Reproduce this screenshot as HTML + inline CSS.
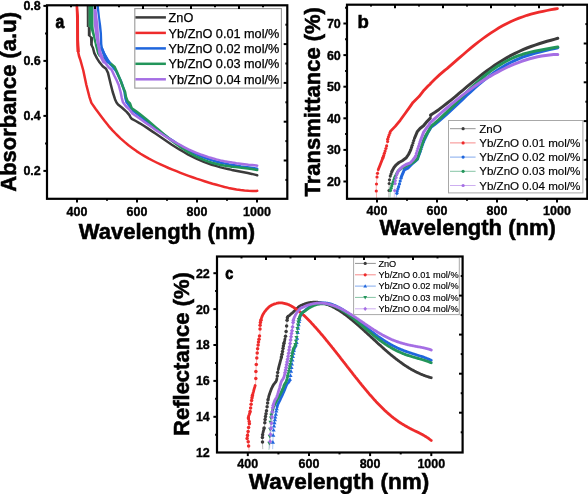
<!DOCTYPE html>
<html><head><meta charset="utf-8"><style>
html,body{margin:0;padding:0;background:#fff;}
body{width:588px;height:494px;overflow:hidden;}
svg{display:block;will-change:transform;}
</style></head><body>
<svg width="588" height="494" viewBox="0 0 588 494">
<rect width="588" height="494" fill="#fff"/>
<text x="77.0" y="215.6" text-anchor="middle" font-size="12.5" font-weight="bold" fill="#000" font-family="Liberation Sans, sans-serif" stroke="#000" stroke-width="0.35">400</text>
<text x="137.0" y="215.6" text-anchor="middle" font-size="12.5" font-weight="bold" fill="#000" font-family="Liberation Sans, sans-serif" stroke="#000" stroke-width="0.35">600</text>
<text x="197.0" y="215.6" text-anchor="middle" font-size="12.5" font-weight="bold" fill="#000" font-family="Liberation Sans, sans-serif" stroke="#000" stroke-width="0.35">800</text>
<text x="257.0" y="215.6" text-anchor="middle" font-size="12.5" font-weight="bold" fill="#000" font-family="Liberation Sans, sans-serif" stroke="#000" stroke-width="0.35">1000</text>
<text x="377.0" y="214.8" text-anchor="middle" font-size="12.5" font-weight="bold" fill="#000" font-family="Liberation Sans, sans-serif" stroke="#000" stroke-width="0.35">400</text>
<text x="437.0" y="214.8" text-anchor="middle" font-size="12.5" font-weight="bold" fill="#000" font-family="Liberation Sans, sans-serif" stroke="#000" stroke-width="0.35">600</text>
<text x="497.0" y="214.8" text-anchor="middle" font-size="12.5" font-weight="bold" fill="#000" font-family="Liberation Sans, sans-serif" stroke="#000" stroke-width="0.35">800</text>
<text x="557.0" y="214.8" text-anchor="middle" font-size="12.5" font-weight="bold" fill="#000" font-family="Liberation Sans, sans-serif" stroke="#000" stroke-width="0.35">1000</text>
<text x="40.8" y="10.3" text-anchor="end" font-size="12.5" font-weight="bold" fill="#000" font-family="Liberation Sans, sans-serif" stroke="#000" stroke-width="0.35">0.8</text>
<text x="40.8" y="65.3" text-anchor="end" font-size="12.5" font-weight="bold" fill="#000" font-family="Liberation Sans, sans-serif" stroke="#000" stroke-width="0.35">0.6</text>
<text x="40.8" y="120.3" text-anchor="end" font-size="12.5" font-weight="bold" fill="#000" font-family="Liberation Sans, sans-serif" stroke="#000" stroke-width="0.35">0.4</text>
<text x="40.8" y="175.2" text-anchor="end" font-size="12.5" font-weight="bold" fill="#000" font-family="Liberation Sans, sans-serif" stroke="#000" stroke-width="0.35">0.2</text>
<text x="340.8" y="27.9" text-anchor="end" font-size="12.5" font-weight="bold" fill="#000" font-family="Liberation Sans, sans-serif" stroke="#000" stroke-width="0.35">70</text>
<text x="340.8" y="59.5" text-anchor="end" font-size="12.5" font-weight="bold" fill="#000" font-family="Liberation Sans, sans-serif" stroke="#000" stroke-width="0.35">60</text>
<text x="340.8" y="91.1" text-anchor="end" font-size="12.5" font-weight="bold" fill="#000" font-family="Liberation Sans, sans-serif" stroke="#000" stroke-width="0.35">50</text>
<text x="340.8" y="122.7" text-anchor="end" font-size="12.5" font-weight="bold" fill="#000" font-family="Liberation Sans, sans-serif" stroke="#000" stroke-width="0.35">40</text>
<text x="340.8" y="154.3" text-anchor="end" font-size="12.5" font-weight="bold" fill="#000" font-family="Liberation Sans, sans-serif" stroke="#000" stroke-width="0.35">30</text>
<text x="340.8" y="185.9" text-anchor="end" font-size="12.5" font-weight="bold" fill="#000" font-family="Liberation Sans, sans-serif" stroke="#000" stroke-width="0.35">20</text>
<text x="167.0" y="238.9" text-anchor="middle" font-size="22" font-weight="bold" fill="#000" font-family="Liberation Sans, sans-serif" stroke="#000" stroke-width="0.55">Wavelength (nm)</text>
<text x="467.6" y="235.3" text-anchor="middle" font-size="22" font-weight="bold" fill="#000" font-family="Liberation Sans, sans-serif" stroke="#000" stroke-width="0.55">Wavelength (nm)</text>
<text transform="translate(16.2,101.9) rotate(-90)" text-anchor="middle" font-size="22" font-weight="bold" stroke="#000" stroke-width="0.55" font-family="Liberation Sans, sans-serif">Absorbance (a.u)</text>
<text transform="translate(319.8,101.8) rotate(-90)" text-anchor="middle" font-size="22" font-weight="bold" stroke="#000" stroke-width="0.55" font-family="Liberation Sans, sans-serif">Transmittance (%)</text>
<text transform="translate(55.4,27.5) scale(0.89,1)" font-size="17.6" font-weight="bold" stroke="#000" stroke-width="0.8" font-family="Liberation Sans, sans-serif">a</text>
<text x="357.5" y="27.5" text-anchor="start" font-size="18.6" font-weight="bold" fill="#000" font-family="Liberation Sans, sans-serif" stroke="#000" stroke-width="0.55">b</text>
<polyline points="91.5,45.0 93.0,48.0 94.3,53.2 97.0,58.4 99.5,62.3 102.7,66.2 106.0,68.8 108.0,72.9 109.7,80.0 110.9,85.0 112.7,92.0 115.0,99.2 116.5,102.5 118.0,104.5 122.1,107.8 126.9,112.1 129.4,115.1 130.6,117.5 131.8,118.9 135.8,121.0 139.8,123.3 143.8,125.8 147.8,128.4 151.8,131.1 155.8,133.8 159.8,136.6 163.8,139.3 167.8,142.0 171.8,144.7 175.8,147.2 179.8,149.7 183.8,152.0 187.8,154.3 191.8,156.4 195.8,158.3 199.8,160.1 203.8,161.8 207.8,163.3 211.8,164.7 215.8,165.9 219.8,167.1 223.8,168.1 227.8,169.0 231.8,169.9 235.8,170.7 239.8,171.5 243.8,172.3 247.8,173.1 251.8,173.9 255.8,174.9 257.2,175.3" fill="none" stroke="#3b3b3b" stroke-width="2.5" stroke-linejoin="round" stroke-linecap="round" opacity="1"/>
<polyline points="76.9,5.5 77.2,16.0 77.5,30.0 77.7,45.0 78.2,52.0 79.0,56.0 80.5,60.4 81.5,64.0 83.3,70.5 86.3,84.7 89.4,96.8 91.4,102.9 95.5,108.8 100.5,115.5 104.5,120.8 108.5,125.8 112.5,130.3 116.5,134.5 120.5,138.4 124.5,141.9 128.5,145.2 132.5,148.2 136.5,151.1 140.5,153.7 144.5,156.1 148.5,158.4 152.5,160.5 156.5,162.5 160.5,164.4 164.5,166.2 168.5,168.0 172.5,169.6 176.5,171.2 180.5,172.8 184.5,174.3 188.5,175.8 192.5,177.2 196.5,178.6 200.5,179.9 204.5,181.2 208.5,182.5 212.5,183.7 216.5,184.8 220.5,185.9 224.5,187.0 228.5,187.9 232.5,188.7 236.5,189.5 240.5,190.1 244.5,190.5 248.5,190.8 252.5,191.0 256.5,190.9 257.2,190.8" fill="none" stroke="#ee2b2b" stroke-width="2.5" stroke-linejoin="round" stroke-linecap="round" opacity="1"/>
<polyline points="101.8,48.0 103.8,53.2 106.3,58.4 109.6,63.6 112.4,66.5 116.0,71.0 120.7,80.5 123.0,87.0 124.5,92.0 125.4,98.1 126.6,102.3 129.4,106.0 133.0,110.7 137.0,113.7 141.0,116.8 145.0,119.9 149.0,123.1 153.0,126.2 157.0,129.3 161.0,132.4 165.0,135.3 169.0,138.2 173.0,140.9 177.0,143.6 181.0,146.0 185.0,148.4 189.0,150.6 193.0,152.6 197.0,154.5 201.0,156.3 205.0,157.9 209.0,159.3 213.0,160.6 217.0,161.7 221.0,162.7 225.0,163.6 229.0,164.4 233.0,165.1 237.0,165.8 241.0,166.4 245.0,166.9 249.0,167.5 253.0,168.1 257.0,168.7 257.2,168.8" fill="none" stroke="#1f66dd" stroke-width="2.5" stroke-linejoin="round" stroke-linecap="round" opacity="1"/>
<polyline points="96.0,45.0 97.0,48.5 98.2,53.2 100.0,56.0 104.0,58.5 108.3,61.5 111.5,64.2 114.7,67.0 117.0,72.0 120.7,81.0 123.0,87.0 125.1,92.0 126.0,96.9 127.6,101.1 130.0,103.5 131.8,108.4 135.8,111.1 139.8,114.1 143.8,117.2 147.8,120.5 151.8,123.9 155.8,127.4 159.8,130.8 163.8,134.2 167.8,137.5 171.8,140.7 175.8,143.7 179.8,146.6 183.8,149.3 187.8,151.9 191.8,154.2 195.8,156.3 199.8,158.2 203.8,159.9 207.8,161.4 211.8,162.7 215.8,163.8 219.8,164.7 223.8,165.5 227.8,166.1 231.8,166.7 235.8,167.1 239.8,167.6 243.8,168.0 247.8,168.4 251.8,169.0 255.8,169.7 257.2,170.0" fill="none" stroke="#22955a" stroke-width="2.5" stroke-linejoin="round" stroke-linecap="round" opacity="1"/>
<polyline points="99.0,48.0 100.2,53.2 102.5,58.4 105.7,63.6 108.6,67.3 111.6,69.8 114.5,76.0 116.5,80.0 118.7,85.0 120.6,92.0 121.8,98.1 123.0,102.3 125.7,106.0 130.0,110.2 132.4,113.5 136.4,116.3 140.4,119.1 144.4,122.0 148.4,124.8 152.4,127.6 156.4,130.4 160.4,133.0 164.4,135.7 168.4,138.2 172.4,140.6 176.4,143.0 180.4,145.2 184.4,147.3 188.4,149.3 192.4,151.1 196.4,152.8 200.4,154.4 204.4,155.8 208.4,157.1 212.4,158.3 216.4,159.4 220.4,160.4 224.4,161.2 228.4,161.9 232.4,162.6 236.4,163.2 240.4,163.7 244.4,164.2 248.4,164.7 252.4,165.1 256.4,165.6 257.2,165.7" fill="none" stroke="#a56ee4" stroke-width="2.5" stroke-linejoin="round" stroke-linecap="round" opacity="1"/>
<polygon points="75.8,5.5 76.1,16.0 76.2,40.0 76.6,52.0 79.8,52.0 79.1,40.0 79.0,16.0 77.9,5.5" fill="#ee2b2b"/>
<polygon points="86.7,5.5 86.8,26.9 87.8,27.0 87.8,35.8 89.9,37.4 90.2,45.0 92.8,45.0 93.1,37.4 90.7,35.8 90.7,27.0 88.8,26.9 88.8,5.5" fill="#3b3b3b"/>
<polygon points="88.6,5.5 88.6,26.0 90.7,29.3 93.1,37.4 93.9,41.4 95.0,45.0 97.0,45.0 96.3,41.4 95.5,37.4 93.8,29.3 93.5,26.0 93.5,5.5" fill="#22955a"/>
<polygon points="93.5,7.0 93.9,25.2 95.5,37.4 96.7,43.9 97.6,48.0 98.2,53.2 100.2,58.4 102.8,63.6 107.6,63.6 104.2,58.4 101.8,53.2 100.5,48.0 100.0,43.9 99.2,37.4 98.4,25.2 96.3,7.0" fill="#a56ee4"/>
<polygon points="96.3,5.5 98.0,17.1 98.8,25.2 99.6,33.3 100.0,43.9 100.5,48.0 102.1,53.2 104.1,58.4 107.3,63.6 111.6,63.6 108.4,58.4 105.4,53.2 103.0,48.0 102.4,43.9 102.0,33.3 101.2,25.2 100.0,17.1 98.8,5.5" fill="#1f66dd"/>
<rect x="134.8" y="8.6" width="146.6" height="79.5" fill="#fff" stroke="#999" stroke-width="1.1"/>
<line x1="135.4" y1="17.4" x2="165.9" y2="17.4" stroke="#3b3b3b" stroke-width="2.5"/>
<text x="168.6" y="22.0" text-anchor="start" font-size="12.7" fill="#000" font-family="Liberation Sans, sans-serif" stroke="#000" stroke-width="0.25">ZnO</text>
<line x1="135.4" y1="32.9" x2="165.9" y2="32.9" stroke="#ee2b2b" stroke-width="2.5"/>
<text x="168.6" y="37.5" text-anchor="start" font-size="12.7" fill="#000" font-family="Liberation Sans, sans-serif" stroke="#000" stroke-width="0.25">Yb/ZnO 0.01 mol/%</text>
<line x1="135.4" y1="48.4" x2="165.9" y2="48.4" stroke="#1f66dd" stroke-width="2.5"/>
<text x="168.6" y="53.0" text-anchor="start" font-size="12.7" fill="#000" font-family="Liberation Sans, sans-serif" stroke="#000" stroke-width="0.25">Yb/ZnO 0.02 mol/%</text>
<line x1="135.4" y1="63.8" x2="165.9" y2="63.8" stroke="#22955a" stroke-width="2.5"/>
<text x="168.6" y="68.4" text-anchor="start" font-size="12.7" fill="#000" font-family="Liberation Sans, sans-serif" stroke="#000" stroke-width="0.25">Yb/ZnO 0.03 mol/%</text>
<line x1="135.4" y1="79.3" x2="165.9" y2="79.3" stroke="#a56ee4" stroke-width="2.5"/>
<text x="168.6" y="83.9" text-anchor="start" font-size="12.7" fill="#000" font-family="Liberation Sans, sans-serif" stroke="#000" stroke-width="0.25">Yb/ZnO 0.04 mol/%</text>
<polyline points="388.8,197.5 389.0,190.0 389.3,181.0 390.3,176.0 392.1,170.9 394.0,167.5 396.2,164.8 399.0,162.5 402.3,160.7 406.3,157.7 408.5,154.5 410.4,150.6 412.5,144.5 414.4,138.5 417.4,131.4 420.0,128.5 423.5,125.8 427.0,121.5 430.3,118.1 430.8,114.8 431.0,114.7 435.0,112.2 439.0,109.4 443.0,106.4 447.0,103.3 451.0,100.1 455.0,96.8 459.0,93.4 463.0,90.1 467.0,86.7 471.0,83.4 475.0,80.1 479.0,76.9 483.0,73.8 487.0,70.8 491.0,67.9 495.0,65.1 499.0,62.5 503.0,60.0 507.0,57.6 511.0,55.4 515.0,53.4 519.0,51.5 523.0,49.7 527.0,48.0 531.0,46.5 535.0,45.1 539.0,43.8 543.0,42.5 547.0,41.3 551.0,40.2 555.0,39.1 557.8,38.3" fill="none" stroke="#3b3b3b" stroke-width="0.8" opacity="0.45" stroke-linejoin="round"/>
<polyline points="392.1,170.9 394.0,167.5 396.2,164.8 399.0,162.5 402.3,160.7 406.3,157.7 408.5,154.5 410.4,150.6" fill="none" stroke="#3b3b3b" stroke-width="3.0" stroke-linejoin="round" stroke-linecap="round"/>
<polyline points="414.4,138.5 417.4,131.4 420.0,128.5 423.5,125.8 427.0,121.5 430.3,118.1" fill="none" stroke="#3b3b3b" stroke-width="3.0" stroke-linejoin="round" stroke-linecap="round"/>
<polyline points="430.8,114.8 431.0,114.7 435.0,112.2 439.0,109.4 443.0,106.4 447.0,103.3 451.0,100.1 455.0,96.8 459.0,93.4 463.0,90.1 467.0,86.7 471.0,83.4 475.0,80.1 479.0,76.9 483.0,73.8 487.0,70.8 491.0,67.9 495.0,65.1 499.0,62.5 503.0,60.0 507.0,57.6 511.0,55.4 515.0,53.4 519.0,51.5 523.0,49.7 527.0,48.0 531.0,46.5 535.0,45.1 539.0,43.8 543.0,42.5 547.0,41.3 551.0,40.2 555.0,39.1 557.8,38.3" fill="none" stroke="#3b3b3b" stroke-width="3.0" stroke-linejoin="round" stroke-linecap="round"/>
<circle cx="389.0" cy="190.5" r="1.6" fill="#3b3b3b"/>
<circle cx="389.2" cy="183.5" r="1.6" fill="#3b3b3b"/>
<circle cx="389.5" cy="179.8" r="1.6" fill="#3b3b3b"/>
<circle cx="390.3" cy="176.1" r="1.6" fill="#3b3b3b"/>
<circle cx="391.0" cy="174.0" r="1.6" fill="#3b3b3b"/>
<circle cx="391.7" cy="171.9" r="1.6" fill="#3b3b3b"/>
<circle cx="410.8" cy="149.5" r="1.6" fill="#3b3b3b"/>
<circle cx="411.5" cy="147.4" r="1.6" fill="#3b3b3b"/>
<circle cx="412.2" cy="145.3" r="1.6" fill="#3b3b3b"/>
<circle cx="413.0" cy="142.9" r="1.6" fill="#3b3b3b"/>
<circle cx="413.7" cy="140.6" r="1.6" fill="#3b3b3b"/>
<circle cx="430.7" cy="115.5" r="1.6" fill="#3b3b3b"/>
<polyline points="376.6,198.0 376.4,192.0 376.2,189.1 376.5,183.0 377.2,174.9 378.2,169.8 380.2,164.8 383.3,156.7 385.3,150.6 387.3,143.5 388.3,137.4 390.4,131.4 395.2,126.4 400.2,120.3 405.3,113.2 410.4,106.1 413.0,102.4 416.0,99.4 419.0,96.6 424.0,90.2 428.0,86.1 430.3,83.9 431.0,82.9 435.0,79.0 440.0,74.4 445.0,70.1 447.0,68.6 451.0,65.1 455.0,61.6 459.0,58.1 463.0,54.7 467.0,51.3 471.0,47.9 475.0,44.7 479.0,41.5 483.0,38.5 487.0,35.6 491.0,32.9 495.0,30.3 499.0,27.8 503.0,25.6 507.0,23.5 511.0,21.5 515.0,19.8 519.0,18.1 523.0,16.7 527.0,15.3 531.0,14.2 535.0,13.1 539.0,12.1 543.0,11.3 547.0,10.5 551.0,9.7 555.0,9.0 557.4,8.6" fill="none" stroke="#ee2b2b" stroke-width="0.8" opacity="0.45" stroke-linejoin="round"/>
<polyline points="378.2,169.8 380.2,164.8 383.3,156.7" fill="none" stroke="#ee2b2b" stroke-width="2.8" stroke-linejoin="round" stroke-linecap="round"/>
<polyline points="390.4,131.4 395.2,126.4 400.2,120.3 405.3,113.2 410.4,106.1 413.0,102.4 416.0,99.4 419.0,96.6 424.0,90.2 428.0,86.1 430.3,83.9 431.0,82.9 435.0,79.0 440.0,74.4 445.0,70.1 447.0,68.6 451.0,65.1 455.0,61.6 459.0,58.1 463.0,54.7 467.0,51.3 471.0,47.9 475.0,44.7 479.0,41.5 483.0,38.5 487.0,35.6 491.0,32.9 495.0,30.3 499.0,27.8 503.0,25.6 507.0,23.5 511.0,21.5 515.0,19.8 519.0,18.1 523.0,16.7 527.0,15.3 531.0,14.2 535.0,13.1 539.0,12.1 543.0,11.3 547.0,10.5 551.0,9.7 555.0,9.0 557.4,8.6" fill="none" stroke="#ee2b2b" stroke-width="2.8" stroke-linejoin="round" stroke-linecap="round"/>
<circle cx="376.3" cy="191.0" r="1.6" fill="#ee2b2b"/>
<circle cx="376.5" cy="184.0" r="1.6" fill="#ee2b2b"/>
<circle cx="377.0" cy="177.0" r="1.6" fill="#ee2b2b"/>
<circle cx="377.5" cy="173.3" r="1.6" fill="#ee2b2b"/>
<circle cx="382.9" cy="157.8" r="1.6" fill="#ee2b2b"/>
<circle cx="383.7" cy="155.6" r="1.6" fill="#ee2b2b"/>
<circle cx="384.4" cy="153.3" r="1.6" fill="#ee2b2b"/>
<circle cx="385.1" cy="151.1" r="1.6" fill="#ee2b2b"/>
<circle cx="385.9" cy="148.5" r="1.6" fill="#ee2b2b"/>
<circle cx="386.6" cy="145.9" r="1.6" fill="#ee2b2b"/>
<circle cx="387.6" cy="141.5" r="1.6" fill="#ee2b2b"/>
<circle cx="387.7" cy="139.2" r="1.6" fill="#ee2b2b"/>
<circle cx="388.4" cy="137.1" r="1.6" fill="#ee2b2b"/>
<circle cx="389.1" cy="135.0" r="1.6" fill="#ee2b2b"/>
<circle cx="389.9" cy="132.9" r="1.6" fill="#ee2b2b"/>
<polyline points="396.2,197.5 397.5,190.0 399.2,185.0 401.3,176.9 404.3,169.8 408.3,167.8 412.4,163.5 417.4,159.3 420.0,152.0 423.5,141.5 427.6,133.0 430.6,128.0 430.6,127.5 434.6,124.6 438.6,121.4 442.6,117.9 446.6,114.4 450.6,110.7 454.6,106.9 458.6,103.1 462.6,99.3 466.6,95.5 470.6,91.8 474.6,88.2 478.6,84.7 482.6,81.3 486.6,78.1 490.6,75.1 494.6,72.2 498.6,69.5 502.6,67.0 506.6,64.6 510.6,62.5 514.6,60.6 518.6,58.8 522.6,57.2 526.6,55.8 530.6,54.5 534.6,53.3 538.6,52.3 542.6,51.3 546.6,50.4 550.6,49.4 554.6,48.5 557.8,47.7" fill="none" stroke="#1f66dd" stroke-width="0.8" opacity="0.45" stroke-linejoin="round"/>
<polyline points="401.3,176.9 404.3,169.8 408.3,167.8 412.4,163.5 417.4,159.3 420.0,152.0" fill="none" stroke="#1f66dd" stroke-width="3.0" stroke-linejoin="round" stroke-linecap="round"/>
<polyline points="423.5,141.5 427.6,133.0 430.6,128.0" fill="none" stroke="#1f66dd" stroke-width="3.0" stroke-linejoin="round" stroke-linecap="round"/>
<polyline points="430.6,127.5 434.6,124.6 438.6,121.4 442.6,117.9 446.6,114.4 450.6,110.7 454.6,106.9 458.6,103.1 462.6,99.3 466.6,95.5 470.6,91.8 474.6,88.2 478.6,84.7 482.6,81.3 486.6,78.1 490.6,75.1 494.6,72.2 498.6,69.5 502.6,67.0 506.6,64.6 510.6,62.5 514.6,60.6 518.6,58.8 522.6,57.2 526.6,55.8 530.6,54.5 534.6,53.3 538.6,52.3 542.6,51.3 546.6,50.4 550.6,49.4 554.6,48.5 557.8,47.7" fill="none" stroke="#1f66dd" stroke-width="3.0" stroke-linejoin="round" stroke-linecap="round"/>
<circle cx="396.9" cy="193.3" r="1.6" fill="#1f66dd"/>
<circle cx="397.2" cy="191.0" r="1.6" fill="#1f66dd"/>
<circle cx="397.9" cy="188.8" r="1.6" fill="#1f66dd"/>
<circle cx="398.6" cy="186.7" r="1.6" fill="#1f66dd"/>
<circle cx="399.5" cy="183.9" r="1.6" fill="#1f66dd"/>
<circle cx="400.2" cy="181.0" r="1.6" fill="#1f66dd"/>
<circle cx="401.0" cy="178.2" r="1.6" fill="#1f66dd"/>
<circle cx="420.3" cy="151.1" r="1.6" fill="#1f66dd"/>
<circle cx="421.0" cy="148.9" r="1.6" fill="#1f66dd"/>
<circle cx="421.8" cy="146.7" r="1.6" fill="#1f66dd"/>
<circle cx="422.5" cy="144.5" r="1.6" fill="#1f66dd"/>
<circle cx="423.2" cy="142.3" r="1.6" fill="#1f66dd"/>
<polyline points="390.1,197.5 390.5,190.0 392.1,185.0 394.5,178.0 398.2,170.9 401.0,168.5 404.3,166.8 408.0,165.0 412.4,162.8 415.0,161.0 417.4,158.7 420.0,151.0 423.5,140.5 425.5,136.0 427.6,132.4 430.6,127.3 430.6,126.6 434.6,123.4 438.6,119.9 442.6,116.2 446.6,112.4 450.6,108.4 454.6,104.4 458.6,100.3 462.6,96.3 466.6,92.3 470.6,88.4 474.6,84.6 478.6,81.0 482.6,77.5 486.6,74.2 490.6,71.1 494.6,68.3 498.6,65.6 502.6,63.2 506.6,61.0 510.6,59.0 514.6,57.2 518.6,55.7 522.6,54.3 526.6,53.1 530.6,52.1 534.6,51.2 538.6,50.4 542.6,49.7 546.6,49.0 550.6,48.3 554.6,47.6 557.8,47.0" fill="none" stroke="#22955a" stroke-width="0.8" opacity="0.45" stroke-linejoin="round"/>
<polyline points="394.5,178.0 398.2,170.9 401.0,168.5 404.3,166.8 408.0,165.0 412.4,162.8 415.0,161.0 417.4,158.7" fill="none" stroke="#22955a" stroke-width="3.0" stroke-linejoin="round" stroke-linecap="round"/>
<polyline points="423.5,140.5 425.5,136.0 427.6,132.4 430.6,127.3" fill="none" stroke="#22955a" stroke-width="3.0" stroke-linejoin="round" stroke-linecap="round"/>
<polyline points="430.6,126.6 434.6,123.4 438.6,119.9 442.6,116.2 446.6,112.4 450.6,108.4 454.6,104.4 458.6,100.3 462.6,96.3 466.6,92.3 470.6,88.4 474.6,84.6 478.6,81.0 482.6,77.5 486.6,74.2 490.6,71.1 494.6,68.3 498.6,65.6 502.6,63.2 506.6,61.0 510.6,59.0 514.6,57.2 518.6,55.7 522.6,54.3 526.6,53.1 530.6,52.1 534.6,51.2 538.6,50.4 542.6,49.7 546.6,49.0 550.6,48.3 554.6,47.6 557.8,47.0" fill="none" stroke="#22955a" stroke-width="3.0" stroke-linejoin="round" stroke-linecap="round"/>
<circle cx="390.5" cy="190.5" r="1.6" fill="#22955a"/>
<circle cx="391.1" cy="188.2" r="1.6" fill="#22955a"/>
<circle cx="391.8" cy="185.9" r="1.6" fill="#22955a"/>
<circle cx="392.5" cy="183.7" r="1.6" fill="#22955a"/>
<circle cx="393.3" cy="181.6" r="1.6" fill="#22955a"/>
<circle cx="394.0" cy="179.5" r="1.6" fill="#22955a"/>
<circle cx="417.6" cy="158.0" r="1.6" fill="#22955a"/>
<circle cx="418.4" cy="155.8" r="1.6" fill="#22955a"/>
<circle cx="419.1" cy="153.6" r="1.6" fill="#22955a"/>
<circle cx="419.8" cy="151.5" r="1.6" fill="#22955a"/>
<circle cx="420.6" cy="149.3" r="1.6" fill="#22955a"/>
<circle cx="421.3" cy="147.1" r="1.6" fill="#22955a"/>
<circle cx="422.0" cy="144.9" r="1.6" fill="#22955a"/>
<circle cx="422.8" cy="142.7" r="1.6" fill="#22955a"/>
<polyline points="394.2,197.5 394.7,190.0 395.2,181.0 397.2,172.9 399.5,169.5 402.3,166.8 406.0,164.5 410.4,162.8 413.0,160.0 415.4,156.7 418.0,148.0 420.5,140.5 423.5,132.4 426.5,128.0 429.6,124.3 429.6,123.4 433.6,119.7 437.6,116.1 441.6,112.5 445.6,109.0 449.6,105.6 453.6,102.3 457.6,99.1 461.6,95.9 465.6,92.9 469.6,89.9 473.6,87.0 477.6,84.3 481.6,81.6 485.6,79.1 489.6,76.6 493.6,74.3 497.6,72.1 501.6,70.0 505.6,68.0 509.6,66.1 513.6,64.4 517.6,62.8 521.6,61.3 525.6,60.0 529.6,58.8 533.6,57.7 537.6,56.8 541.6,56.0 545.6,55.4 549.6,54.9 553.6,54.6 557.6,54.4 557.8,54.4" fill="none" stroke="#a56ee4" stroke-width="0.8" opacity="0.45" stroke-linejoin="round"/>
<polyline points="397.2,172.9 399.5,169.5 402.3,166.8 406.0,164.5 410.4,162.8 413.0,160.0 415.4,156.7" fill="none" stroke="#a56ee4" stroke-width="3.0" stroke-linejoin="round" stroke-linecap="round"/>
<polyline points="420.5,140.5 423.5,132.4 426.5,128.0 429.6,124.3" fill="none" stroke="#a56ee4" stroke-width="3.0" stroke-linejoin="round" stroke-linecap="round"/>
<polyline points="429.6,123.4 433.6,119.7 437.6,116.1 441.6,112.5 445.6,109.0 449.6,105.6 453.6,102.3 457.6,99.1 461.6,95.9 465.6,92.9 469.6,89.9 473.6,87.0 477.6,84.3 481.6,81.6 485.6,79.1 489.6,76.6 493.6,74.3 497.6,72.1 501.6,70.0 505.6,68.0 509.6,66.1 513.6,64.4 517.6,62.8 521.6,61.3 525.6,60.0 529.6,58.8 533.6,57.7 537.6,56.8 541.6,56.0 545.6,55.4 549.6,54.9 553.6,54.6 557.6,54.4 557.8,54.4" fill="none" stroke="#a56ee4" stroke-width="3.0" stroke-linejoin="round" stroke-linecap="round"/>
<circle cx="394.7" cy="190.5" r="1.6" fill="#a56ee4"/>
<circle cx="395.1" cy="183.5" r="1.6" fill="#a56ee4"/>
<circle cx="395.3" cy="180.5" r="1.6" fill="#a56ee4"/>
<circle cx="396.1" cy="177.5" r="1.6" fill="#a56ee4"/>
<circle cx="396.8" cy="174.5" r="1.6" fill="#a56ee4"/>
<circle cx="415.7" cy="155.9" r="1.6" fill="#a56ee4"/>
<circle cx="416.4" cy="153.4" r="1.6" fill="#a56ee4"/>
<circle cx="417.1" cy="150.9" r="1.6" fill="#a56ee4"/>
<circle cx="417.9" cy="148.5" r="1.6" fill="#a56ee4"/>
<circle cx="418.6" cy="146.3" r="1.6" fill="#a56ee4"/>
<circle cx="419.3" cy="144.1" r="1.6" fill="#a56ee4"/>
<circle cx="420.0" cy="141.9" r="1.6" fill="#a56ee4"/>
<rect x="448.5" y="120.5" width="134.4" height="72.4" fill="#fff" stroke="#a8a8a8" stroke-width="1"/>
<line x1="450" y1="128.7" x2="475.6" y2="128.7" stroke="#3b3b3b" stroke-width="1" opacity="0.55"/>
<circle cx="463.1" cy="128.7" r="1.6" fill="#3b3b3b"/>
<text x="479.2" y="132.7" text-anchor="start" font-size="11.6" fill="#000" font-family="Liberation Sans, sans-serif" stroke="#000" stroke-width="0.15">ZnO</text>
<line x1="450" y1="142.9" x2="475.6" y2="142.9" stroke="#ee2b2b" stroke-width="1" opacity="0.55"/>
<circle cx="463.1" cy="142.9" r="1.6" fill="#ee2b2b"/>
<text x="479.2" y="146.9" text-anchor="start" font-size="11.6" fill="#000" font-family="Liberation Sans, sans-serif" stroke="#000" stroke-width="0.15">Yb/ZnO 0.01 mol/%</text>
<line x1="450" y1="157.1" x2="475.6" y2="157.1" stroke="#1f66dd" stroke-width="1" opacity="0.55"/>
<circle cx="463.1" cy="157.1" r="1.6" fill="#1f66dd"/>
<text x="479.2" y="161.1" text-anchor="start" font-size="11.6" fill="#000" font-family="Liberation Sans, sans-serif" stroke="#000" stroke-width="0.15">Yb/ZnO 0.02 mol/%</text>
<line x1="450" y1="171.3" x2="475.6" y2="171.3" stroke="#22955a" stroke-width="1" opacity="0.55"/>
<circle cx="463.1" cy="171.3" r="1.6" fill="#22955a"/>
<text x="479.2" y="175.3" text-anchor="start" font-size="11.6" fill="#000" font-family="Liberation Sans, sans-serif" stroke="#000" stroke-width="0.15">Yb/ZnO 0.03 mol/%</text>
<line x1="450" y1="185.5" x2="475.6" y2="185.5" stroke="#a56ee4" stroke-width="1" opacity="0.55"/>
<circle cx="463.1" cy="185.5" r="1.6" fill="#a56ee4"/>
<text x="479.2" y="189.5" text-anchor="start" font-size="11.6" fill="#000" font-family="Liberation Sans, sans-serif" stroke="#000" stroke-width="0.15">Yb/ZnO 0.04 mol/%</text>
<text x="247.8" y="468.4" text-anchor="middle" font-size="12.5" font-weight="bold" fill="#000" font-family="Liberation Sans, sans-serif" stroke="#000" stroke-width="0.35">400</text>
<text x="309.0" y="468.4" text-anchor="middle" font-size="12.5" font-weight="bold" fill="#000" font-family="Liberation Sans, sans-serif" stroke="#000" stroke-width="0.35">600</text>
<text x="370.1" y="468.4" text-anchor="middle" font-size="12.5" font-weight="bold" fill="#000" font-family="Liberation Sans, sans-serif" stroke="#000" stroke-width="0.35">800</text>
<text x="431.3" y="468.4" text-anchor="middle" font-size="12.5" font-weight="bold" fill="#000" font-family="Liberation Sans, sans-serif" stroke="#000" stroke-width="0.35">1000</text>
<text x="209.8" y="277.6" text-anchor="end" font-size="12.5" font-weight="bold" fill="#000" font-family="Liberation Sans, sans-serif" stroke="#000" stroke-width="0.35">22</text>
<text x="209.8" y="313.5" text-anchor="end" font-size="12.5" font-weight="bold" fill="#000" font-family="Liberation Sans, sans-serif" stroke="#000" stroke-width="0.35">20</text>
<text x="209.8" y="349.4" text-anchor="end" font-size="12.5" font-weight="bold" fill="#000" font-family="Liberation Sans, sans-serif" stroke="#000" stroke-width="0.35">18</text>
<text x="209.8" y="385.3" text-anchor="end" font-size="12.5" font-weight="bold" fill="#000" font-family="Liberation Sans, sans-serif" stroke="#000" stroke-width="0.35">16</text>
<text x="209.8" y="421.2" text-anchor="end" font-size="12.5" font-weight="bold" fill="#000" font-family="Liberation Sans, sans-serif" stroke="#000" stroke-width="0.35">14</text>
<text x="209.8" y="457.1" text-anchor="end" font-size="12.5" font-weight="bold" fill="#000" font-family="Liberation Sans, sans-serif" stroke="#000" stroke-width="0.35">12</text>
<text x="339.0" y="489.3" text-anchor="middle" font-size="22.5" font-weight="bold" fill="#000" font-family="Liberation Sans, sans-serif" stroke="#000" stroke-width="0.55">Wavelength (nm)</text>
<text transform="translate(188.8,354.0) rotate(-90)" text-anchor="middle" font-size="22" font-weight="bold" stroke="#000" stroke-width="0.55" font-family="Liberation Sans, sans-serif">Reflectance (%)</text>
<text transform="translate(225.2,278.5) scale(0.86,1)" font-size="16.8" font-weight="bold" stroke="#000" stroke-width="0.8" font-family="Liberation Sans, sans-serif">c</text>
<polyline points="262.8,449.1 262.7,447.7 262.6,445.6 262.5,443.2 262.5,440.7 262.4,438.3 262.5,436.2 262.7,434.4 263.0,432.8 263.3,431.3 263.7,429.9 264.0,428.5 264.3,427.1 264.5,425.8 264.6,424.5 264.7,423.3 264.8,422.1 264.9,420.8 265.1,419.5 265.3,418.1 265.6,416.6 265.8,415.0 266.1,413.5 266.4,411.9 266.6,410.4 266.8,408.8 267.0,407.2 267.2,405.6 267.4,404.0 267.6,402.6 267.8,401.3 267.9,400.3 268.1,399.5 268.2,398.9 268.3,398.3 268.5,397.6 268.7,396.7 269.0,395.6 269.5,394.3 269.9,392.9 270.4,391.5 270.9,390.2 271.3,389.1 271.7,388.2 272.1,387.4 272.4,386.7 272.8,386.0 273.2,385.3 273.6,384.6 274.1,383.9 274.6,383.3 275.1,382.7 275.7,382.0 276.2,381.1 276.6,380.0 276.9,378.6 277.2,377.1 277.4,375.4 277.6,373.5 277.9,371.6 278.2,369.7 278.7,367.7 279.2,365.5 279.8,363.3 280.4,361.0 281.0,358.8 281.5,356.7 281.9,354.6 282.3,352.6 282.6,350.6 283.0,348.7 283.3,346.8 283.6,345.0 284.0,343.3 284.3,341.8 284.7,340.3 285.0,338.8 285.3,337.3 285.6,335.8 285.8,334.2 286.0,332.6 286.2,331.0 286.3,329.4 286.5,327.9 286.6,326.3 286.7,324.7 286.9,323.0 287.0,321.4 287.1,319.8 287.3,318.5 287.5,317.4 287.7,316.7 288.0,316.3 288.2,316.1 288.5,316.0 289.0,315.8 289.5,315.4 290.2,314.7 291.1,313.9 292.1,313.1 293.1,312.2 294.0,311.3 294.9,310.5 295.7,309.8 296.4,309.0 297.1,308.3 297.8,307.7 298.4,307.1 299.0,306.6 299.6,306.2 300.1,305.9 300.6,305.6 301.0,305.4 301.5,305.2 302.0,305.0 302.5,304.8 303.0,304.6 303.5,304.4 304.0,304.2 304.5,304.0 305.0,303.8 305.5,303.6 306.0,303.5 306.5,303.3 307.0,303.2 307.5,303.0 308.0,302.9 308.5,302.8 309.0,302.7 309.5,302.6 310.0,302.5 310.5,302.5 311.0,302.4 311.5,302.3 312.0,302.3 312.5,302.3 313.0,302.2 313.5,302.2 314.0,302.2 314.5,302.2 315.0,302.2 315.5,302.2 316.0,302.2 316.5,302.2 317.0,302.2 317.5,302.2 318.0,302.3 318.5,302.4 319.0,302.4 319.5,302.5 320.0,302.6 320.5,302.7 321.0,302.8 321.5,302.9 322.0,303.0 322.5,303.1 323.0,303.2 323.5,303.3 324.0,303.5 324.5,303.6 325.0,303.8 325.5,303.9 326.0,304.1 326.5,304.3 327.0,304.4 327.5,304.6 328.0,304.8 328.5,305.0 329.0,305.2 329.5,305.4 330.0,305.6 330.5,305.8 331.0,306.0 331.5,306.3 332.0,306.5 332.5,306.7 333.0,307.0 333.5,307.3 334.0,307.5 334.5,307.8 335.0,308.1 335.5,308.4 336.0,308.7 336.5,308.9 337.0,309.2 337.5,309.5 338.0,309.8 338.5,310.1 339.0,310.4 339.5,310.7 340.0,311.0 340.5,311.4 341.0,311.7 341.5,312.0 342.0,312.4 342.5,312.7 343.0,313.1 343.5,313.4 344.0,313.8 344.5,314.2 345.0,314.5 345.5,314.9 346.0,315.2 346.5,315.6 347.0,316.0 347.5,316.4 348.0,316.8 348.5,317.2 349.0,317.6 349.5,318.0 350.0,318.4 350.5,318.8 351.0,319.2 351.5,319.6 352.0,320.0 352.5,320.4 353.0,320.8 353.5,321.2 354.0,321.7 354.5,322.1 355.0,322.5 355.5,323.0 356.0,323.4 356.5,323.8 357.0,324.3 357.5,324.7 358.0,325.1 358.5,325.6 359.0,326.0 359.5,326.4 360.0,326.9 360.5,327.3 361.0,327.8 361.5,328.2 362.0,328.7 362.5,329.1 363.0,329.6 363.5,330.0 364.0,330.5 364.5,330.9 365.0,331.4 365.5,331.9 366.0,332.3 366.5,332.8 367.0,333.3 367.5,333.7 368.0,334.2 368.5,334.7 369.0,335.1 369.5,335.5 370.0,336.0 370.5,336.4 371.0,336.9 371.5,337.4 372.0,337.8 372.5,338.3 373.0,338.8 373.5,339.2 374.0,339.7 374.5,340.2 375.0,340.6 375.5,341.1 376.0,341.6 376.5,342.0 377.0,342.5 377.5,343.0 378.0,343.4 378.5,343.9 379.0,344.3 379.5,344.8 380.0,345.2 380.5,345.6 381.0,346.1 381.5,346.5 382.0,347.0 382.5,347.4 383.0,347.9 383.5,348.4 384.0,348.8 384.5,349.3 385.0,349.7 385.5,350.2 386.0,350.6 386.5,351.0 387.0,351.5 387.5,351.9 388.0,352.3 388.5,352.8 389.0,353.2 389.5,353.6 390.0,354.0 390.5,354.5 391.0,354.9 391.5,355.3 392.0,355.7 392.5,356.1 393.0,356.5 393.5,356.9 394.0,357.3 394.5,357.7 395.0,358.1 395.5,358.5 396.0,358.9 396.5,359.3 397.0,359.6 397.5,360.0 398.0,360.4 398.5,360.8 399.0,361.1 399.5,361.5 400.0,361.9 400.5,362.2 401.0,362.6 401.5,363.0 402.0,363.3 402.5,363.7 403.0,364.1 403.5,364.5 404.0,364.8 404.5,365.1 405.0,365.5 405.5,365.8 406.0,366.1 406.5,366.4 407.0,366.7 407.5,367.0 408.0,367.3 408.5,367.7 409.0,368.0 409.5,368.3 410.0,368.6 410.5,368.9 411.0,369.2 411.5,369.5 412.0,369.7 412.5,370.0 413.0,370.3 413.5,370.6 414.0,370.8 414.5,371.1 415.0,371.4 415.5,371.6 416.0,371.9 416.5,372.1 417.0,372.4 417.5,372.6 418.0,372.8 418.5,373.1 419.0,373.3 419.5,373.5 420.0,373.7 420.5,374.0 421.0,374.2 421.5,374.4 422.0,374.6 422.5,374.8 423.0,375.0 423.5,375.2 424.0,375.4 424.5,375.6 425.0,375.8 425.5,376.0 426.0,376.2 426.5,376.3 427.0,376.5 427.5,376.6 428.0,376.8 428.5,377.0 429.1,377.1 429.7,377.3 430.2,377.5 430.7,377.6 431.0,377.7 431.2,377.8 431.3,377.8 431.3,377.8 431.3,377.7 431.3,377.7 431.3,377.7" fill="none" stroke="#3b3b3b" stroke-width="0.8" opacity="0.45" stroke-linejoin="round"/>
<polyline points="263.0,432.8 263.3,431.3 263.7,429.9 264.0,428.5" fill="none" stroke="#3b3b3b" stroke-width="2.8" stroke-linejoin="round" stroke-linecap="round"/>
<polyline points="268.3,398.3 268.5,397.6 268.7,396.7 269.0,395.6 269.5,394.3 269.9,392.9 270.4,391.5 270.9,390.2 271.3,389.1 271.7,388.2 272.1,387.4 272.4,386.7 272.8,386.0 273.2,385.3 273.6,384.6 274.1,383.9 274.6,383.3 275.1,382.7 275.7,382.0 276.2,381.1 276.6,380.0 276.9,378.6" fill="none" stroke="#3b3b3b" stroke-width="2.8" stroke-linejoin="round" stroke-linecap="round"/>
<polyline points="278.2,369.7 278.7,367.7 279.2,365.5 279.8,363.3 280.4,361.0 281.0,358.8 281.5,356.7" fill="none" stroke="#3b3b3b" stroke-width="2.8" stroke-linejoin="round" stroke-linecap="round"/>
<polyline points="284.0,343.3 284.3,341.8 284.7,340.3 285.0,338.8" fill="none" stroke="#3b3b3b" stroke-width="2.8" stroke-linejoin="round" stroke-linecap="round"/>
<polyline points="287.5,317.4 287.7,316.7 288.0,316.3 288.2,316.1 288.5,316.0 289.0,315.8 289.5,315.4 290.2,314.7 291.1,313.9 292.1,313.1 293.1,312.2 294.0,311.3 294.9,310.5 295.7,309.8 296.4,309.0 297.1,308.3 297.8,307.7 298.4,307.1 299.0,306.6 299.6,306.2 300.1,305.9 300.6,305.6 301.0,305.4 301.5,305.2 302.0,305.0 302.5,304.8 303.0,304.6 303.5,304.4 304.0,304.2 304.5,304.0 305.0,303.8 305.5,303.6 306.0,303.5 306.5,303.3 307.0,303.2 307.5,303.0 308.0,302.9 308.5,302.8 309.0,302.7 309.5,302.6 310.0,302.5 310.5,302.5 311.0,302.4 311.5,302.3 312.0,302.3 312.5,302.3 313.0,302.2 313.5,302.2 314.0,302.2 314.5,302.2 315.0,302.2 315.5,302.2 316.0,302.2 316.5,302.2 317.0,302.2 317.5,302.2 318.0,302.3 318.5,302.4 319.0,302.4 319.5,302.5 320.0,302.6 320.5,302.7 321.0,302.8 321.5,302.9 322.0,303.0 322.5,303.1 323.0,303.2 323.5,303.3 324.0,303.5 324.5,303.6 325.0,303.8 325.5,303.9 326.0,304.1 326.5,304.3 327.0,304.4 327.5,304.6 328.0,304.8 328.5,305.0 329.0,305.2 329.5,305.4 330.0,305.6 330.5,305.8 331.0,306.0 331.5,306.3 332.0,306.5 332.5,306.7 333.0,307.0 333.5,307.3 334.0,307.5 334.5,307.8 335.0,308.1 335.5,308.4 336.0,308.7 336.5,308.9 337.0,309.2 337.5,309.5 338.0,309.8 338.5,310.1 339.0,310.4 339.5,310.7 340.0,311.0 340.5,311.4 341.0,311.7 341.5,312.0 342.0,312.4 342.5,312.7 343.0,313.1 343.5,313.4 344.0,313.8 344.5,314.2 345.0,314.5 345.5,314.9 346.0,315.2 346.5,315.6 347.0,316.0 347.5,316.4 348.0,316.8 348.5,317.2 349.0,317.6 349.5,318.0 350.0,318.4 350.5,318.8 351.0,319.2 351.5,319.6 352.0,320.0 352.5,320.4 353.0,320.8 353.5,321.2 354.0,321.7 354.5,322.1 355.0,322.5 355.5,323.0 356.0,323.4 356.5,323.8 357.0,324.3 357.5,324.7 358.0,325.1 358.5,325.6 359.0,326.0 359.5,326.4 360.0,326.9 360.5,327.3 361.0,327.8 361.5,328.2 362.0,328.7 362.5,329.1 363.0,329.6 363.5,330.0 364.0,330.5 364.5,330.9 365.0,331.4 365.5,331.9 366.0,332.3 366.5,332.8 367.0,333.3 367.5,333.7 368.0,334.2 368.5,334.7 369.0,335.1 369.5,335.5 370.0,336.0 370.5,336.4 371.0,336.9 371.5,337.4 372.0,337.8 372.5,338.3 373.0,338.8 373.5,339.2 374.0,339.7 374.5,340.2 375.0,340.6 375.5,341.1 376.0,341.6 376.5,342.0 377.0,342.5 377.5,343.0 378.0,343.4 378.5,343.9 379.0,344.3 379.5,344.8 380.0,345.2 380.5,345.6 381.0,346.1 381.5,346.5 382.0,347.0 382.5,347.4 383.0,347.9 383.5,348.4 384.0,348.8 384.5,349.3 385.0,349.7 385.5,350.2 386.0,350.6 386.5,351.0 387.0,351.5 387.5,351.9 388.0,352.3 388.5,352.8 389.0,353.2 389.5,353.6 390.0,354.0 390.5,354.5 391.0,354.9 391.5,355.3 392.0,355.7 392.5,356.1 393.0,356.5 393.5,356.9 394.0,357.3 394.5,357.7 395.0,358.1 395.5,358.5 396.0,358.9 396.5,359.3 397.0,359.6 397.5,360.0 398.0,360.4 398.5,360.8 399.0,361.1 399.5,361.5 400.0,361.9 400.5,362.2 401.0,362.6 401.5,363.0 402.0,363.3 402.5,363.7 403.0,364.1 403.5,364.5 404.0,364.8 404.5,365.1 405.0,365.5 405.5,365.8 406.0,366.1 406.5,366.4 407.0,366.7 407.5,367.0 408.0,367.3 408.5,367.7 409.0,368.0 409.5,368.3 410.0,368.6 410.5,368.9 411.0,369.2 411.5,369.5 412.0,369.7 412.5,370.0 413.0,370.3 413.5,370.6 414.0,370.8 414.5,371.1 415.0,371.4 415.5,371.6 416.0,371.9 416.5,372.1 417.0,372.4 417.5,372.6 418.0,372.8 418.5,373.1 419.0,373.3 419.5,373.5 420.0,373.7 420.5,374.0 421.0,374.2 421.5,374.4 422.0,374.6 422.5,374.8 423.0,375.0 423.5,375.2 424.0,375.4 424.5,375.6 425.0,375.8 425.5,376.0 426.0,376.2 426.5,376.3 427.0,376.5 427.5,376.6 428.0,376.8 428.5,377.0 429.1,377.1 429.7,377.3 430.2,377.5 430.7,377.6 431.0,377.7 431.2,377.8 431.3,377.8 431.3,377.8 431.3,377.7 431.3,377.7" fill="none" stroke="#3b3b3b" stroke-width="2.8" stroke-linejoin="round" stroke-linecap="round"/>
<circle cx="262.5" cy="442.1" r="1.75" fill="#3b3b3b"/>
<circle cx="262.4" cy="437.6" r="1.75" fill="#3b3b3b"/>
<circle cx="262.6" cy="434.8" r="1.75" fill="#3b3b3b"/>
<circle cx="264.1" cy="427.9" r="1.75" fill="#3b3b3b"/>
<circle cx="264.8" cy="422.8" r="1.75" fill="#3b3b3b"/>
<circle cx="265.1" cy="419.5" r="1.75" fill="#3b3b3b"/>
<circle cx="265.5" cy="416.6" r="1.75" fill="#3b3b3b"/>
<circle cx="266.0" cy="413.8" r="1.75" fill="#3b3b3b"/>
<circle cx="266.5" cy="410.7" r="1.75" fill="#3b3b3b"/>
<circle cx="267.1" cy="406.8" r="1.75" fill="#3b3b3b"/>
<circle cx="267.6" cy="403.0" r="1.75" fill="#3b3b3b"/>
<circle cx="268.0" cy="399.7" r="1.75" fill="#3b3b3b"/>
<circle cx="277.3" cy="376.0" r="1.75" fill="#3b3b3b"/>
<circle cx="277.7" cy="372.4" r="1.75" fill="#3b3b3b"/>
<circle cx="281.4" cy="357.0" r="1.75" fill="#3b3b3b"/>
<circle cx="282.0" cy="354.3" r="1.75" fill="#3b3b3b"/>
<circle cx="282.5" cy="351.4" r="1.75" fill="#3b3b3b"/>
<circle cx="283.0" cy="348.6" r="1.75" fill="#3b3b3b"/>
<circle cx="283.4" cy="345.9" r="1.75" fill="#3b3b3b"/>
<circle cx="283.9" cy="343.6" r="1.75" fill="#3b3b3b"/>
<circle cx="285.5" cy="336.3" r="1.75" fill="#3b3b3b"/>
<circle cx="286.1" cy="331.4" r="1.75" fill="#3b3b3b"/>
<circle cx="286.6" cy="325.9" r="1.75" fill="#3b3b3b"/>
<circle cx="287.1" cy="320.3" r="1.75" fill="#3b3b3b"/>
<circle cx="287.4" cy="317.8" r="1.75" fill="#3b3b3b"/>
<polyline points="249.1,450.7 249.0,450.0 248.9,448.9 248.8,447.7 248.7,446.4 248.5,445.1 248.4,443.8 248.3,442.5 248.1,441.1 247.9,439.8 247.8,438.4 247.7,437.2 247.6,436.2 247.6,435.5 247.6,435.1 247.6,434.9 247.7,434.6 247.8,434.1 247.9,433.2 248.1,431.8 248.3,430.0 248.6,428.1 248.8,426.0 249.0,424.2 249.1,422.6 249.1,421.4 248.9,420.4 248.7,419.5 248.5,418.7 248.4,418.0 248.4,417.2 248.5,416.5 248.7,415.8 249.0,415.2 249.3,414.6 249.6,413.8 249.9,412.7 250.1,411.3 250.4,409.7 250.6,407.9 250.9,406.0 251.1,404.3 251.3,402.8 251.5,401.6 251.6,400.5 251.7,399.6 251.8,398.7 252.0,397.8 252.2,396.7 252.5,395.5 252.8,394.2 253.1,392.9 253.5,391.6 253.8,390.3 254.1,389.1 254.4,388.1 254.7,387.2 254.9,386.4 255.2,385.5 255.4,384.4 255.6,383.0 255.7,381.3 255.8,379.3 255.8,377.1 255.9,374.7 255.9,372.4 256.0,370.0 256.1,367.6 256.3,365.0 256.5,362.4 256.6,359.8 256.8,357.3 257.0,355.0 257.2,352.9 257.4,351.0 257.6,349.2 257.8,347.5 258.0,345.8 258.2,344.0 258.5,342.1 258.8,340.3 259.1,338.4 259.4,336.5 259.7,334.8 259.9,333.1 260.0,331.6 260.0,330.1 260.0,328.8 260.0,327.5 260.0,326.2 260.1,324.9 260.3,323.6 260.5,322.3 260.7,321.0 261.0,319.8 261.3,318.6 261.7,317.4 262.1,316.3 262.6,315.2 263.1,314.2 263.7,313.2 264.3,312.3 265.0,311.3 265.8,310.3 266.6,309.3 267.5,308.4 268.4,307.5 269.4,306.6 270.4,305.9 271.5,305.3 272.6,304.7 273.8,304.2 275.0,303.8 276.2,303.5 277.2,303.2 278.1,303.0 278.9,302.9 279.6,302.8 280.4,302.8 281.1,302.8 282.0,302.9 283.0,303.1 284.1,303.3 285.2,303.6 286.2,303.9 287.2,304.2 288.1,304.5 288.8,304.7 289.3,305.0 289.8,305.2 290.2,305.4 290.6,305.6 291.1,305.9 291.6,306.2 292.1,306.5 292.6,306.8 293.1,307.1 293.6,307.4 294.1,307.7 294.6,308.0 295.1,308.4 295.6,308.7 296.1,309.1 296.6,309.4 297.1,309.8 297.6,310.2 298.1,310.5 298.6,310.9 299.1,311.3 299.6,311.7 300.1,312.1 300.6,312.5 301.1,312.9 301.6,313.4 302.1,313.8 302.6,314.2 303.1,314.7 303.6,315.2 304.1,315.6 304.6,316.1 305.1,316.6 305.6,317.1 306.1,317.6 306.6,318.1 307.1,318.6 307.6,319.1 308.1,319.6 308.6,320.1 309.1,320.6 309.6,321.1 310.1,321.6 310.6,322.1 311.1,322.6 311.6,323.2 312.1,323.7 312.6,324.2 313.1,324.8 313.6,325.3 314.1,325.9 314.6,326.4 315.1,327.0 315.6,327.6 316.1,328.1 316.6,328.7 317.1,329.3 317.6,329.8 318.1,330.4 318.6,331.0 319.1,331.6 319.6,332.1 320.1,332.7 320.6,333.3 321.1,333.9 321.6,334.5 322.1,335.1 322.6,335.6 323.1,336.2 323.6,336.8 324.1,337.4 324.6,338.0 325.1,338.6 325.6,339.2 326.1,339.9 326.6,340.5 327.1,341.1 327.6,341.7 328.1,342.3 328.6,343.0 329.1,343.6 329.6,344.2 330.1,344.8 330.6,345.4 331.1,346.0 331.6,346.6 332.1,347.3 332.6,347.9 333.1,348.5 333.6,349.1 334.1,349.8 334.6,350.4 335.1,351.0 335.6,351.7 336.1,352.3 336.6,352.9 337.1,353.6 337.6,354.2 338.1,354.8 338.6,355.5 339.1,356.1 339.6,356.7 340.1,357.4 340.6,358.1 341.1,358.7 341.6,359.4 342.1,360.0 342.6,360.6 343.1,361.3 343.6,361.9 344.1,362.5 344.6,363.2 345.1,363.8 345.6,364.4 346.1,365.1 346.6,365.8 347.1,366.4 347.6,367.1 348.1,367.7 348.6,368.3 349.1,369.0 349.6,369.6 350.1,370.2 350.6,370.9 351.1,371.5 351.6,372.1 352.1,372.8 352.6,373.5 353.1,374.1 353.6,374.8 354.1,375.4 354.6,376.0 355.1,376.6 355.6,377.3 356.1,377.9 356.6,378.5 357.1,379.1 357.6,379.7 358.1,380.4 358.6,381.0 359.1,381.6 359.6,382.3 360.1,382.9 360.6,383.5 361.1,384.1 361.6,384.8 362.1,385.4 362.6,386.0 363.1,386.6 363.6,387.2 364.1,387.8 364.6,388.4 365.1,389.0 365.6,389.6 366.1,390.2 366.6,390.8 367.1,391.4 367.6,392.0 368.1,392.6 368.6,393.2 369.1,393.8 369.6,394.4 370.1,394.9 370.6,395.5 371.1,396.1 371.6,396.6 372.1,397.2 372.6,397.8 373.1,398.3 373.6,398.9 374.1,399.5 374.6,400.0 375.1,400.6 375.6,401.1 376.1,401.7 376.6,402.2 377.1,402.8 377.6,403.3 378.1,403.8 378.6,404.3 379.1,404.8 379.6,405.3 380.1,405.8 380.6,406.3 381.1,406.8 381.6,407.3 382.1,407.8 382.6,408.3 383.1,408.8 383.6,409.3 384.1,409.8 384.6,410.3 385.1,410.7 385.6,411.2 386.1,411.6 386.6,412.1 387.1,412.5 387.6,412.9 388.1,413.4 388.6,413.8 389.1,414.2 389.6,414.7 390.1,415.1 390.6,415.5 391.1,416.0 391.6,416.4 392.1,416.8 392.6,417.2 393.1,417.6 393.6,418.0 394.1,418.4 394.6,418.7 395.1,419.1 395.6,419.4 396.1,419.8 396.6,420.2 397.1,420.5 397.6,420.9 398.1,421.3 398.6,421.7 399.1,422.0 399.6,422.3 400.1,422.7 400.6,423.0 401.1,423.3 401.6,423.6 402.1,423.9 402.6,424.2 403.1,424.5 403.6,424.8 404.1,425.1 404.6,425.4 405.1,425.7 405.6,426.0 406.1,426.3 406.6,426.6 407.1,426.8 407.6,427.1 408.1,427.4 408.6,427.7 409.1,427.9 409.6,428.2 410.1,428.5 410.6,428.7 411.1,429.0 411.6,429.3 412.1,429.5 412.6,429.8 413.1,430.0 413.6,430.3 414.1,430.5 414.6,430.7 415.1,431.0 415.6,431.2 416.1,431.4 416.6,431.7 417.1,431.9 417.6,432.1 418.1,432.4 418.6,432.6 419.1,432.9 419.6,433.1 420.1,433.4 420.6,433.7 421.1,433.9 421.6,434.2 422.1,434.4 422.6,434.7 423.1,435.0 423.6,435.3 424.1,435.6 424.6,435.9 425.1,436.2 425.6,436.5 426.1,436.8 426.6,437.1 427.1,437.5 427.7,437.8 428.2,438.1 428.6,438.5 429.1,438.8 429.5,439.1 430.0,439.5 430.4,439.8 430.8,440.1 431.1,440.3 431.3,440.5" fill="none" stroke="#ee2b2b" stroke-width="0.8" opacity="0.45" stroke-linejoin="round"/>
<polyline points="247.6,434.9 247.7,434.6" fill="none" stroke="#ee2b2b" stroke-width="2.8" stroke-linejoin="round" stroke-linecap="round"/>
<polyline points="248.7,419.5 248.5,418.7" fill="none" stroke="#ee2b2b" stroke-width="2.8" stroke-linejoin="round" stroke-linecap="round"/>
<polyline points="248.5,416.5 248.7,415.8 249.0,415.2 249.3,414.6 249.6,413.8 249.9,412.7" fill="none" stroke="#ee2b2b" stroke-width="2.8" stroke-linejoin="round" stroke-linecap="round"/>
<polyline points="252.5,395.5 252.8,394.2 253.1,392.9 253.5,391.6 253.8,390.3 254.1,389.1 254.4,388.1 254.7,387.2 254.9,386.4 255.2,385.5" fill="none" stroke="#ee2b2b" stroke-width="2.8" stroke-linejoin="round" stroke-linecap="round"/>
<polyline points="261.0,319.8 261.3,318.6 261.7,317.4 262.1,316.3 262.6,315.2 263.1,314.2 263.7,313.2 264.3,312.3 265.0,311.3 265.8,310.3 266.6,309.3 267.5,308.4 268.4,307.5 269.4,306.6 270.4,305.9 271.5,305.3 272.6,304.7 273.8,304.2 275.0,303.8 276.2,303.5 277.2,303.2 278.1,303.0 278.9,302.9 279.6,302.8 280.4,302.8 281.1,302.8 282.0,302.9 283.0,303.1 284.1,303.3 285.2,303.6 286.2,303.9 287.2,304.2 288.1,304.5 288.8,304.7 289.3,305.0 289.8,305.2 290.2,305.4 290.6,305.6 291.1,305.9 291.6,306.2 292.1,306.5 292.6,306.8 293.1,307.1 293.6,307.4 294.1,307.7 294.6,308.0 295.1,308.4 295.6,308.7 296.1,309.1 296.6,309.4 297.1,309.8 297.6,310.2 298.1,310.5 298.6,310.9 299.1,311.3 299.6,311.7 300.1,312.1 300.6,312.5 301.1,312.9 301.6,313.4 302.1,313.8 302.6,314.2 303.1,314.7 303.6,315.2 304.1,315.6 304.6,316.1 305.1,316.6 305.6,317.1 306.1,317.6 306.6,318.1 307.1,318.6 307.6,319.1 308.1,319.6 308.6,320.1 309.1,320.6 309.6,321.1 310.1,321.6 310.6,322.1 311.1,322.6 311.6,323.2 312.1,323.7 312.6,324.2 313.1,324.8 313.6,325.3 314.1,325.9 314.6,326.4 315.1,327.0 315.6,327.6 316.1,328.1 316.6,328.7 317.1,329.3 317.6,329.8 318.1,330.4 318.6,331.0 319.1,331.6 319.6,332.1 320.1,332.7 320.6,333.3 321.1,333.9 321.6,334.5 322.1,335.1 322.6,335.6 323.1,336.2 323.6,336.8 324.1,337.4 324.6,338.0 325.1,338.6 325.6,339.2 326.1,339.9 326.6,340.5 327.1,341.1 327.6,341.7 328.1,342.3 328.6,343.0 329.1,343.6 329.6,344.2 330.1,344.8 330.6,345.4 331.1,346.0 331.6,346.6 332.1,347.3 332.6,347.9 333.1,348.5 333.6,349.1 334.1,349.8 334.6,350.4 335.1,351.0 335.6,351.7 336.1,352.3 336.6,352.9 337.1,353.6 337.6,354.2 338.1,354.8 338.6,355.5 339.1,356.1 339.6,356.7 340.1,357.4 340.6,358.1 341.1,358.7 341.6,359.4 342.1,360.0 342.6,360.6 343.1,361.3 343.6,361.9 344.1,362.5 344.6,363.2 345.1,363.8 345.6,364.4 346.1,365.1 346.6,365.8 347.1,366.4 347.6,367.1 348.1,367.7 348.6,368.3 349.1,369.0 349.6,369.6 350.1,370.2 350.6,370.9 351.1,371.5 351.6,372.1 352.1,372.8 352.6,373.5 353.1,374.1 353.6,374.8 354.1,375.4 354.6,376.0 355.1,376.6 355.6,377.3 356.1,377.9 356.6,378.5 357.1,379.1 357.6,379.7 358.1,380.4 358.6,381.0 359.1,381.6 359.6,382.3 360.1,382.9 360.6,383.5 361.1,384.1 361.6,384.8 362.1,385.4 362.6,386.0 363.1,386.6 363.6,387.2 364.1,387.8 364.6,388.4 365.1,389.0 365.6,389.6 366.1,390.2 366.6,390.8 367.1,391.4 367.6,392.0 368.1,392.6 368.6,393.2 369.1,393.8 369.6,394.4 370.1,394.9 370.6,395.5 371.1,396.1 371.6,396.6 372.1,397.2 372.6,397.8 373.1,398.3 373.6,398.9 374.1,399.5 374.6,400.0 375.1,400.6 375.6,401.1 376.1,401.7 376.6,402.2 377.1,402.8 377.6,403.3 378.1,403.8 378.6,404.3 379.1,404.8 379.6,405.3 380.1,405.8 380.6,406.3 381.1,406.8 381.6,407.3 382.1,407.8 382.6,408.3 383.1,408.8 383.6,409.3 384.1,409.8 384.6,410.3 385.1,410.7 385.6,411.2 386.1,411.6 386.6,412.1 387.1,412.5 387.6,412.9 388.1,413.4 388.6,413.8 389.1,414.2 389.6,414.7 390.1,415.1 390.6,415.5 391.1,416.0 391.6,416.4 392.1,416.8 392.6,417.2 393.1,417.6 393.6,418.0 394.1,418.4 394.6,418.7 395.1,419.1 395.6,419.4 396.1,419.8 396.6,420.2 397.1,420.5 397.6,420.9 398.1,421.3 398.6,421.7 399.1,422.0 399.6,422.3 400.1,422.7 400.6,423.0 401.1,423.3 401.6,423.6 402.1,423.9 402.6,424.2 403.1,424.5 403.6,424.8 404.1,425.1 404.6,425.4 405.1,425.7 405.6,426.0 406.1,426.3 406.6,426.6 407.1,426.8 407.6,427.1 408.1,427.4 408.6,427.7 409.1,427.9 409.6,428.2 410.1,428.5 410.6,428.7 411.1,429.0 411.6,429.3 412.1,429.5 412.6,429.8 413.1,430.0 413.6,430.3 414.1,430.5 414.6,430.7 415.1,431.0 415.6,431.2 416.1,431.4 416.6,431.7 417.1,431.9 417.6,432.1 418.1,432.4 418.6,432.6 419.1,432.9 419.6,433.1 420.1,433.4 420.6,433.7 421.1,433.9 421.6,434.2 422.1,434.4 422.6,434.7 423.1,435.0 423.6,435.3 424.1,435.6 424.6,435.9 425.1,436.2 425.6,436.5 426.1,436.8 426.6,437.1 427.1,437.5 427.7,437.8 428.2,438.1 428.6,438.5 429.1,438.8 429.5,439.1 430.0,439.5 430.4,439.8 430.8,440.1 431.1,440.3 431.3,440.5" fill="none" stroke="#ee2b2b" stroke-width="2.8" stroke-linejoin="round" stroke-linecap="round"/>
<circle cx="248.6" cy="445.9" r="1.75" fill="#ee2b2b"/>
<circle cx="248.2" cy="441.7" r="1.75" fill="#ee2b2b"/>
<circle cx="247.1" cy="438.5" r="1.75" fill="#ee2b2b"/>
<circle cx="247.5" cy="435.4" r="1.75" fill="#ee2b2b"/>
<circle cx="248.1" cy="431.4" r="1.75" fill="#ee2b2b"/>
<circle cx="248.6" cy="427.4" r="1.75" fill="#ee2b2b"/>
<circle cx="249.4" cy="423.8" r="1.75" fill="#ee2b2b"/>
<circle cx="249.2" cy="421.6" r="1.75" fill="#ee2b2b"/>
<circle cx="248.4" cy="418.0" r="1.75" fill="#ee2b2b"/>
<circle cx="250.1" cy="411.5" r="1.75" fill="#ee2b2b"/>
<circle cx="250.6" cy="407.9" r="1.75" fill="#ee2b2b"/>
<circle cx="251.1" cy="404.3" r="1.75" fill="#ee2b2b"/>
<circle cx="251.6" cy="400.4" r="1.75" fill="#ee2b2b"/>
<circle cx="252.0" cy="397.8" r="1.75" fill="#ee2b2b"/>
<circle cx="252.4" cy="395.6" r="1.75" fill="#ee2b2b"/>
<circle cx="255.8" cy="378.6" r="1.75" fill="#ee2b2b"/>
<circle cx="255.9" cy="371.6" r="1.75" fill="#ee2b2b"/>
<circle cx="256.3" cy="364.6" r="1.75" fill="#ee2b2b"/>
<circle cx="256.8" cy="358.1" r="1.75" fill="#ee2b2b"/>
<circle cx="257.2" cy="353.0" r="1.75" fill="#ee2b2b"/>
<circle cx="257.6" cy="348.7" r="1.75" fill="#ee2b2b"/>
<circle cx="258.1" cy="345.0" r="1.75" fill="#ee2b2b"/>
<circle cx="258.5" cy="342.0" r="1.75" fill="#ee2b2b"/>
<circle cx="259.0" cy="339.2" r="1.75" fill="#ee2b2b"/>
<circle cx="259.5" cy="336.0" r="1.75" fill="#ee2b2b"/>
<circle cx="260.0" cy="329.0" r="1.75" fill="#ee2b2b"/>
<circle cx="260.1" cy="325.2" r="1.75" fill="#ee2b2b"/>
<circle cx="260.4" cy="322.5" r="1.75" fill="#ee2b2b"/>
<circle cx="260.9" cy="320.3" r="1.75" fill="#ee2b2b"/>
<polyline points="272.7,449.1 272.7,447.7 272.8,445.7 272.8,443.4 272.9,440.9 273.0,438.5 273.1,436.2 273.2,434.1 273.4,432.0 273.6,429.9 273.8,427.9 274.0,425.9 274.2,424.1 274.4,422.4 274.7,420.8 274.9,419.4 275.2,417.9 275.4,416.5 275.7,415.0 276.0,413.4 276.2,411.8 276.5,410.2 276.8,408.6 277.1,407.1 277.4,405.8 277.8,404.6 278.2,403.6 278.6,402.7 279.1,401.8 279.6,400.9 280.1,399.8 280.6,398.6 281.2,397.4 281.8,396.1 282.4,394.8 283.0,393.5 283.6,392.2 284.1,390.9 284.7,389.6 285.2,388.2 285.7,386.9 286.2,385.7 286.7,384.6 287.2,383.8 287.7,383.2 288.3,382.7 288.8,382.1 289.3,381.3 289.7,380.0 290.1,378.3 290.4,376.2 290.7,373.9 291.0,371.5 291.3,368.9 291.6,366.4 292.0,363.7 292.3,360.8 292.7,357.8 293.1,354.9 293.5,352.3 293.9,350.2 294.3,348.7 294.7,347.8 295.1,347.2 295.4,346.6 295.8,346.0 296.1,345.0 296.4,343.7 296.6,342.2 296.8,340.6 297.0,338.9 297.2,337.3 297.4,335.8 297.6,334.4 297.7,333.1 297.8,331.8 297.9,330.5 298.0,329.1 298.2,327.7 298.4,326.1 298.6,324.4 298.9,322.7 299.1,321.0 299.4,319.5 299.7,318.1 300.0,317.0 300.4,316.0 300.8,315.1 301.2,314.3 301.6,313.6 302.0,313.0 302.5,312.4 302.9,312.0 303.5,311.6 304.0,311.2 304.5,310.9 305.0,310.5 305.5,310.1 306.0,309.6 306.5,309.2 307.0,308.8 307.5,308.4 308.0,308.0 308.5,307.6 309.0,307.3 309.5,306.9 310.0,306.6 310.5,306.3 311.0,306.0 311.5,305.7 312.0,305.5 312.5,305.2 313.0,305.0 313.5,304.8 314.0,304.6 314.5,304.4 315.0,304.2 315.5,304.0 316.0,303.8 316.5,303.6 317.0,303.5 317.5,303.4 318.0,303.3 318.5,303.2 319.0,303.1 319.5,303.1 320.0,303.0 320.5,302.9 321.0,302.9 321.5,302.9 322.0,302.8 322.5,302.8 323.0,302.8 323.5,302.8 324.0,302.8 324.5,302.9 325.0,302.9 325.5,302.9 326.0,303.0 326.5,303.1 327.0,303.1 327.5,303.2 328.0,303.3 328.5,303.4 329.0,303.5 329.5,303.6 330.0,303.8 330.5,303.9 331.0,304.1 331.5,304.2 332.0,304.4 332.5,304.6 333.0,304.8 333.5,305.0 334.0,305.2 334.5,305.4 335.0,305.6 335.5,305.8 336.0,306.0 336.5,306.3 337.0,306.5 337.5,306.8 338.0,307.0 338.5,307.3 339.0,307.5 339.5,307.8 340.0,308.0 340.5,308.3 341.0,308.6 341.5,308.9 342.0,309.2 342.5,309.5 343.0,309.8 343.5,310.2 344.0,310.5 344.5,310.8 345.0,311.2 345.5,311.5 346.0,311.8 346.5,312.2 347.0,312.5 347.5,312.8 348.0,313.2 348.5,313.5 349.0,313.9 349.5,314.2 350.0,314.6 350.5,315.0 351.0,315.4 351.5,315.7 352.0,316.1 352.5,316.5 353.0,316.9 353.5,317.3 354.0,317.7 354.5,318.0 355.0,318.4 355.5,318.8 356.0,319.2 356.5,319.6 357.0,320.0 357.5,320.4 358.0,320.8 358.5,321.2 359.0,321.6 359.5,322.0 360.0,322.4 360.5,322.8 361.0,323.2 361.5,323.6 362.0,324.0 362.5,324.4 363.0,324.8 363.5,325.2 364.0,325.6 364.5,326.0 365.0,326.4 365.5,326.8 366.0,327.2 366.5,327.6 367.0,328.0 367.5,328.4 368.0,328.8 368.5,329.2 369.0,329.6 369.5,330.0 370.0,330.3 370.5,330.7 371.0,331.1 371.5,331.5 372.0,331.9 372.5,332.2 373.0,332.6 373.5,333.0 374.0,333.4 374.5,333.8 375.0,334.2 375.5,334.6 376.0,334.9 376.5,335.3 377.0,335.7 377.5,336.1 378.0,336.4 378.5,336.8 379.0,337.1 379.5,337.5 380.0,337.8 380.5,338.1 381.0,338.5 381.5,338.8 382.0,339.1 382.5,339.5 383.0,339.8 383.5,340.1 384.0,340.4 384.5,340.8 385.0,341.1 385.5,341.4 386.0,341.7 386.5,342.0 387.0,342.3 387.5,342.6 388.0,342.9 388.5,343.2 389.0,343.5 389.5,343.8 390.0,344.1 390.5,344.4 391.0,344.7 391.5,344.9 392.0,345.2 392.5,345.5 393.0,345.7 393.5,346.0 394.0,346.2 394.5,346.5 395.0,346.7 395.5,347.0 396.0,347.2 396.5,347.5 397.0,347.7 397.5,348.0 398.0,348.2 398.5,348.4 399.0,348.7 399.5,348.9 400.0,349.1 400.5,349.3 401.0,349.5 401.5,349.7 402.0,349.9 402.5,350.1 403.0,350.3 403.5,350.5 404.0,350.7 404.5,350.9 405.0,351.1 405.5,351.3 406.0,351.4 406.5,351.6 407.0,351.8 407.5,352.0 408.0,352.1 408.5,352.3 409.0,352.5 409.5,352.6 410.0,352.8 410.5,353.0 411.0,353.1 411.5,353.3 412.0,353.5 412.5,353.6 413.0,353.8 413.5,354.0 414.0,354.1 414.5,354.2 415.0,354.4 415.5,354.5 416.0,354.7 416.5,354.9 417.0,355.0 417.5,355.2 418.0,355.4 418.5,355.5 419.0,355.7 419.5,355.9 420.0,356.0 420.5,356.1 421.0,356.3 421.5,356.4 422.0,356.6 422.5,356.8 423.0,356.9 423.5,357.1 424.0,357.3 424.5,357.5 425.0,357.7 425.5,357.9 426.0,358.1 426.5,358.3 427.0,358.5 427.5,358.7 428.0,358.9 428.5,359.1 429.1,359.4 429.7,359.6 430.2,359.9 430.7,360.1 431.0,360.2 431.2,360.3 431.3,360.3 431.3,360.3 431.3,360.3 431.3,360.3 431.3,360.3" fill="none" stroke="#1f66dd" stroke-width="0.8" opacity="0.45" stroke-linejoin="round"/>
<polyline points="277.1,407.1 277.4,405.8 277.8,404.6 278.2,403.6 278.6,402.7 279.1,401.8 279.6,400.9 280.1,399.8 280.6,398.6 281.2,397.4 281.8,396.1 282.4,394.8 283.0,393.5 283.6,392.2 284.1,390.9 284.7,389.6 285.2,388.2 285.7,386.9 286.2,385.7 286.7,384.6 287.2,383.8 287.7,383.2 288.3,382.7 288.8,382.1 289.3,381.3 289.7,380.0" fill="none" stroke="#1f66dd" stroke-width="2.8" stroke-linejoin="round" stroke-linecap="round"/>
<polyline points="293.9,350.2 294.3,348.7 294.7,347.8 295.1,347.2 295.4,346.6 295.8,346.0 296.1,345.0" fill="none" stroke="#1f66dd" stroke-width="2.8" stroke-linejoin="round" stroke-linecap="round"/>
<polyline points="299.7,318.1 300.0,317.0 300.4,316.0 300.8,315.1 301.2,314.3 301.6,313.6 302.0,313.0 302.5,312.4 302.9,312.0 303.5,311.6 304.0,311.2 304.5,310.9 305.0,310.5 305.5,310.1 306.0,309.6 306.5,309.2 307.0,308.8 307.5,308.4 308.0,308.0 308.5,307.6 309.0,307.3 309.5,306.9 310.0,306.6 310.5,306.3 311.0,306.0 311.5,305.7 312.0,305.5 312.5,305.2 313.0,305.0 313.5,304.8 314.0,304.6 314.5,304.4 315.0,304.2 315.5,304.0 316.0,303.8 316.5,303.6 317.0,303.5 317.5,303.4 318.0,303.3 318.5,303.2 319.0,303.1 319.5,303.1 320.0,303.0 320.5,302.9 321.0,302.9 321.5,302.9 322.0,302.8 322.5,302.8 323.0,302.8 323.5,302.8 324.0,302.8 324.5,302.9 325.0,302.9 325.5,302.9 326.0,303.0 326.5,303.1 327.0,303.1 327.5,303.2 328.0,303.3 328.5,303.4 329.0,303.5 329.5,303.6 330.0,303.8 330.5,303.9 331.0,304.1 331.5,304.2 332.0,304.4 332.5,304.6 333.0,304.8 333.5,305.0 334.0,305.2 334.5,305.4 335.0,305.6 335.5,305.8 336.0,306.0 336.5,306.3 337.0,306.5 337.5,306.8 338.0,307.0 338.5,307.3 339.0,307.5 339.5,307.8 340.0,308.0 340.5,308.3 341.0,308.6 341.5,308.9 342.0,309.2 342.5,309.5 343.0,309.8 343.5,310.2 344.0,310.5 344.5,310.8 345.0,311.2 345.5,311.5 346.0,311.8 346.5,312.2 347.0,312.5 347.5,312.8 348.0,313.2 348.5,313.5 349.0,313.9 349.5,314.2 350.0,314.6 350.5,315.0 351.0,315.4 351.5,315.7 352.0,316.1 352.5,316.5 353.0,316.9 353.5,317.3 354.0,317.7 354.5,318.0 355.0,318.4 355.5,318.8 356.0,319.2 356.5,319.6 357.0,320.0 357.5,320.4 358.0,320.8 358.5,321.2 359.0,321.6 359.5,322.0 360.0,322.4 360.5,322.8 361.0,323.2 361.5,323.6 362.0,324.0 362.5,324.4 363.0,324.8 363.5,325.2 364.0,325.6 364.5,326.0 365.0,326.4 365.5,326.8 366.0,327.2 366.5,327.6 367.0,328.0 367.5,328.4 368.0,328.8 368.5,329.2 369.0,329.6 369.5,330.0 370.0,330.3 370.5,330.7 371.0,331.1 371.5,331.5 372.0,331.9 372.5,332.2 373.0,332.6 373.5,333.0 374.0,333.4 374.5,333.8 375.0,334.2 375.5,334.6 376.0,334.9 376.5,335.3 377.0,335.7 377.5,336.1 378.0,336.4 378.5,336.8 379.0,337.1 379.5,337.5 380.0,337.8 380.5,338.1 381.0,338.5 381.5,338.8 382.0,339.1 382.5,339.5 383.0,339.8 383.5,340.1 384.0,340.4 384.5,340.8 385.0,341.1 385.5,341.4 386.0,341.7 386.5,342.0 387.0,342.3 387.5,342.6 388.0,342.9 388.5,343.2 389.0,343.5 389.5,343.8 390.0,344.1 390.5,344.4 391.0,344.7 391.5,344.9 392.0,345.2 392.5,345.5 393.0,345.7 393.5,346.0 394.0,346.2 394.5,346.5 395.0,346.7 395.5,347.0 396.0,347.2 396.5,347.5 397.0,347.7 397.5,348.0 398.0,348.2 398.5,348.4 399.0,348.7 399.5,348.9 400.0,349.1 400.5,349.3 401.0,349.5 401.5,349.7 402.0,349.9 402.5,350.1 403.0,350.3 403.5,350.5 404.0,350.7 404.5,350.9 405.0,351.1 405.5,351.3 406.0,351.4 406.5,351.6 407.0,351.8 407.5,352.0 408.0,352.1 408.5,352.3 409.0,352.5 409.5,352.6 410.0,352.8 410.5,353.0 411.0,353.1 411.5,353.3 412.0,353.5 412.5,353.6 413.0,353.8 413.5,354.0 414.0,354.1 414.5,354.2 415.0,354.4 415.5,354.5 416.0,354.7 416.5,354.9 417.0,355.0 417.5,355.2 418.0,355.4 418.5,355.5 419.0,355.7 419.5,355.9 420.0,356.0 420.5,356.1 421.0,356.3 421.5,356.4 422.0,356.6 422.5,356.8 423.0,356.9 423.5,357.1 424.0,357.3 424.5,357.5 425.0,357.7 425.5,357.9 426.0,358.1 426.5,358.3 427.0,358.5 427.5,358.7 428.0,358.9 428.5,359.1 429.1,359.4 429.7,359.6 430.2,359.9 430.7,360.1 431.0,360.2 431.2,360.3 431.3,360.3 431.3,360.3 431.3,360.3 431.3,360.3 431.3,360.3" fill="none" stroke="#1f66dd" stroke-width="2.8" stroke-linejoin="round" stroke-linecap="round"/>
<polygon points="272.9,440.0 275.0,443.7 270.8,443.7" fill="#1f66dd"/>
<polygon points="273.2,433.0 275.3,436.7 271.1,436.7" fill="#1f66dd"/>
<polygon points="273.6,427.9 275.7,431.6 271.5,431.6" fill="#1f66dd"/>
<polygon points="274.0,423.8 276.1,427.4 271.9,427.4" fill="#1f66dd"/>
<polygon points="274.4,420.5 276.5,424.2 272.3,424.2" fill="#1f66dd"/>
<polygon points="274.9,417.6 277.0,421.3 272.8,421.3" fill="#1f66dd"/>
<polygon points="275.3,414.9 277.4,418.6 273.2,418.6" fill="#1f66dd"/>
<polygon points="275.8,412.0 277.9,415.7 273.7,415.7" fill="#1f66dd"/>
<polygon points="276.3,409.0 278.4,412.6 274.2,412.6" fill="#1f66dd"/>
<polygon points="276.7,406.6 278.8,410.2 274.6,410.2" fill="#1f66dd"/>
<polygon points="289.9,377.2 292.0,380.8 287.8,380.8" fill="#1f66dd"/>
<polygon points="290.5,373.4 292.6,377.0 288.4,377.0" fill="#1f66dd"/>
<polygon points="291.0,369.1 293.1,372.8 288.9,372.8" fill="#1f66dd"/>
<polygon points="291.5,365.4 293.6,369.0 289.4,369.0" fill="#1f66dd"/>
<polygon points="291.9,361.7 294.0,365.4 289.8,365.4" fill="#1f66dd"/>
<polygon points="292.4,358.0 294.5,361.6 290.3,361.6" fill="#1f66dd"/>
<polygon points="292.9,354.4 295.0,358.0 290.8,358.0" fill="#1f66dd"/>
<polygon points="293.4,351.1 295.5,354.8 291.3,354.8" fill="#1f66dd"/>
<polygon points="293.8,348.4 295.9,352.1 291.7,352.1" fill="#1f66dd"/>
<polygon points="296.6,340.3 298.7,343.9 294.5,343.9" fill="#1f66dd"/>
<polygon points="297.1,336.0 299.2,339.7 295.0,339.7" fill="#1f66dd"/>
<polygon points="297.7,330.2 299.8,333.9 295.6,333.9" fill="#1f66dd"/>
<polygon points="298.1,326.1 300.2,329.7 296.0,329.7" fill="#1f66dd"/>
<polygon points="298.6,322.5 300.7,326.2 296.5,326.2" fill="#1f66dd"/>
<polygon points="299.1,319.3 301.2,323.0 297.0,323.0" fill="#1f66dd"/>
<polygon points="299.5,317.1 301.6,320.8 297.4,320.8" fill="#1f66dd"/>
<polyline points="268.9,449.9 269.0,449.0 269.1,447.8 269.2,446.3 269.3,444.6 269.5,442.8 269.6,440.8 269.7,438.5 269.9,436.0 270.0,433.2 270.1,430.4 270.3,427.9 270.4,425.6 270.5,423.7 270.6,422.1 270.7,420.7 270.8,419.3 271.0,417.9 271.2,416.5 271.5,415.0 271.8,413.4 272.2,411.9 272.6,410.3 273.0,408.8 273.5,407.4 274.0,406.0 274.6,404.8 275.2,403.5 275.8,402.3 276.5,401.0 277.1,399.8 277.8,398.5 278.5,397.3 279.2,396.0 280.0,394.7 280.7,393.5 281.3,392.2 281.9,390.9 282.4,389.6 283.0,388.2 283.5,386.9 283.9,385.7 284.4,384.6 284.8,383.8 285.2,383.2 285.6,382.7 285.9,382.1 286.3,381.3 286.7,380.0 287.2,378.3 287.7,376.2 288.2,373.9 288.7,371.5 289.3,368.9 289.8,366.4 290.3,363.7 290.9,360.8 291.4,357.8 292.0,354.9 292.5,352.3 293.0,350.2 293.4,348.7 293.9,347.8 294.3,347.2 294.6,346.6 295.0,346.0 295.3,345.0 295.6,343.7 295.9,342.2 296.1,340.6 296.3,338.9 296.5,337.3 296.7,335.8 296.9,334.4 297.0,333.1 297.1,331.8 297.3,330.5 297.4,329.1 297.6,327.7 297.8,326.1 298.1,324.4 298.3,322.7 298.6,321.0 298.9,319.4 299.2,318.1 299.5,317.0 299.9,316.1 300.2,315.4 300.6,314.7 301.0,314.1 301.5,313.5 302.0,313.0 302.6,312.5 303.2,312.1 303.8,311.7 304.4,311.4 305.0,311.0 305.5,310.6 306.0,310.2 306.5,309.8 307.0,309.4 307.5,309.1 308.0,308.7 308.5,308.4 309.0,308.0 309.5,307.7 310.0,307.5 310.5,307.2 311.0,306.9 311.5,306.6 312.0,306.4 312.5,306.1 313.0,305.9 313.5,305.7 314.0,305.5 314.5,305.3 315.0,305.1 315.5,304.9 316.0,304.8 316.5,304.6 317.0,304.5 317.5,304.4 318.0,304.3 318.5,304.2 319.0,304.1 319.5,304.1 320.0,304.0 320.5,303.9 321.0,303.9 321.5,303.9 322.0,303.8 322.5,303.8 323.0,303.8 323.5,303.8 324.0,303.8 324.5,303.9 325.0,303.9 325.5,303.9 326.0,304.0 326.5,304.1 327.0,304.1 327.5,304.2 328.0,304.3 328.5,304.4 329.0,304.5 329.5,304.6 330.0,304.8 330.5,304.9 331.0,305.1 331.5,305.2 332.0,305.4 332.5,305.6 333.0,305.7 333.5,305.9 334.0,306.1 334.5,306.3 335.0,306.5 335.5,306.7 336.0,306.9 336.5,307.2 337.0,307.4 337.5,307.6 338.0,307.9 338.5,308.2 339.0,308.4 339.5,308.7 340.0,309.0 340.5,309.3 341.0,309.6 341.5,309.9 342.0,310.2 342.5,310.5 343.0,310.9 343.5,311.2 344.0,311.5 344.5,311.8 345.0,312.1 345.5,312.5 346.0,312.8 346.5,313.1 347.0,313.5 347.5,313.9 348.0,314.2 348.5,314.6 349.0,315.0 349.5,315.4 350.0,315.8 350.5,316.2 351.0,316.6 351.5,316.9 352.0,317.3 352.5,317.7 353.0,318.1 353.5,318.5 354.0,318.9 354.5,319.3 355.0,319.7 355.5,320.1 356.0,320.5 356.5,320.9 357.0,321.4 357.5,321.8 358.0,322.2 358.5,322.7 359.0,323.1 359.5,323.5 360.0,323.9 360.5,324.4 361.0,324.8 361.5,325.2 362.0,325.6 362.5,326.0 363.0,326.5 363.5,326.9 364.0,327.3 364.5,327.8 365.0,328.2 365.5,328.6 366.0,329.0 366.5,329.5 367.0,329.9 367.5,330.3 368.0,330.7 368.5,331.1 369.0,331.5 369.5,331.9 370.0,332.4 370.5,332.8 371.0,333.2 371.5,333.6 372.0,334.0 372.5,334.5 373.0,334.9 373.5,335.3 374.0,335.7 374.5,336.1 375.0,336.5 375.5,336.9 376.0,337.3 376.5,337.7 377.0,338.1 377.5,338.5 378.0,338.9 378.5,339.3 379.0,339.7 379.5,340.0 380.0,340.4 380.5,340.8 381.0,341.1 381.5,341.5 382.0,341.8 382.5,342.2 383.0,342.5 383.5,342.9 384.0,343.2 384.5,343.6 385.0,343.9 385.5,344.3 386.0,344.6 386.5,344.9 387.0,345.3 387.5,345.6 388.0,345.9 388.5,346.2 389.0,346.5 389.5,346.8 390.0,347.1 390.5,347.4 391.0,347.7 391.5,348.0 392.0,348.3 392.5,348.6 393.0,348.9 393.5,349.1 394.0,349.4 394.5,349.6 395.0,349.9 395.5,350.2 396.0,350.4 396.5,350.7 397.0,350.9 397.5,351.2 398.0,351.4 398.5,351.6 399.0,351.8 399.5,352.1 400.0,352.3 400.5,352.5 401.0,352.7 401.5,352.9 402.0,353.1 402.5,353.4 403.0,353.6 403.5,353.8 404.0,354.0 404.5,354.2 405.0,354.4 405.5,354.6 406.0,354.8 406.5,354.9 407.0,355.1 407.5,355.3 408.0,355.4 408.5,355.6 409.0,355.7 409.5,355.8 410.0,356.0 410.5,356.2 411.0,356.3 411.5,356.5 412.0,356.7 412.5,356.8 413.0,357.0 413.5,357.1 414.0,357.3 414.5,357.4 415.0,357.5 415.5,357.7 416.0,357.8 416.5,357.9 417.0,358.1 417.5,358.3 418.0,358.4 418.5,358.6 419.0,358.7 419.5,358.8 420.0,359.0 420.5,359.1 421.0,359.2 421.5,359.4 422.0,359.5 422.5,359.7 423.0,359.8 423.5,360.0 424.0,360.2 424.5,360.3 425.0,360.5 425.5,360.7 426.0,360.8 426.5,361.0 427.0,361.2 427.5,361.3 428.0,361.5 428.5,361.7 429.1,361.9 429.7,362.2 430.2,362.4 430.7,362.6 431.0,362.7 431.2,362.8 431.3,362.8 431.3,362.8 431.3,362.8 431.3,362.8 431.3,362.8" fill="none" stroke="#22955a" stroke-width="0.8" opacity="0.45" stroke-linejoin="round"/>
<polyline points="271.8,413.4 272.2,411.9 272.6,410.3 273.0,408.8 273.5,407.4 274.0,406.0 274.6,404.8 275.2,403.5 275.8,402.3 276.5,401.0 277.1,399.8 277.8,398.5 278.5,397.3 279.2,396.0 280.0,394.7 280.7,393.5 281.3,392.2 281.9,390.9 282.4,389.6 283.0,388.2 283.5,386.9 283.9,385.7 284.4,384.6 284.8,383.8 285.2,383.2 285.6,382.7 285.9,382.1 286.3,381.3 286.7,380.0 287.2,378.3 287.7,376.2" fill="none" stroke="#22955a" stroke-width="2.8" stroke-linejoin="round" stroke-linecap="round"/>
<polyline points="292.5,352.3 293.0,350.2 293.4,348.7 293.9,347.8 294.3,347.2 294.6,346.6 295.0,346.0 295.3,345.0" fill="none" stroke="#22955a" stroke-width="2.8" stroke-linejoin="round" stroke-linecap="round"/>
<polyline points="298.9,319.4 299.2,318.1 299.5,317.0 299.9,316.1 300.2,315.4 300.6,314.7 301.0,314.1 301.5,313.5 302.0,313.0 302.6,312.5 303.2,312.1 303.8,311.7 304.4,311.4 305.0,311.0 305.5,310.6 306.0,310.2 306.5,309.8 307.0,309.4 307.5,309.1 308.0,308.7 308.5,308.4 309.0,308.0 309.5,307.7 310.0,307.5 310.5,307.2 311.0,306.9 311.5,306.6 312.0,306.4 312.5,306.1 313.0,305.9 313.5,305.7 314.0,305.5 314.5,305.3 315.0,305.1 315.5,304.9 316.0,304.8 316.5,304.6 317.0,304.5 317.5,304.4 318.0,304.3 318.5,304.2 319.0,304.1 319.5,304.1 320.0,304.0 320.5,303.9 321.0,303.9 321.5,303.9 322.0,303.8 322.5,303.8 323.0,303.8 323.5,303.8 324.0,303.8 324.5,303.9 325.0,303.9 325.5,303.9 326.0,304.0 326.5,304.1 327.0,304.1 327.5,304.2 328.0,304.3 328.5,304.4 329.0,304.5 329.5,304.6 330.0,304.8 330.5,304.9 331.0,305.1 331.5,305.2 332.0,305.4 332.5,305.6 333.0,305.7 333.5,305.9 334.0,306.1 334.5,306.3 335.0,306.5 335.5,306.7 336.0,306.9 336.5,307.2 337.0,307.4 337.5,307.6 338.0,307.9 338.5,308.2 339.0,308.4 339.5,308.7 340.0,309.0 340.5,309.3 341.0,309.6 341.5,309.9 342.0,310.2 342.5,310.5 343.0,310.9 343.5,311.2 344.0,311.5 344.5,311.8 345.0,312.1 345.5,312.5 346.0,312.8 346.5,313.1 347.0,313.5 347.5,313.9 348.0,314.2 348.5,314.6 349.0,315.0 349.5,315.4 350.0,315.8 350.5,316.2 351.0,316.6 351.5,316.9 352.0,317.3 352.5,317.7 353.0,318.1 353.5,318.5 354.0,318.9 354.5,319.3 355.0,319.7 355.5,320.1 356.0,320.5 356.5,320.9 357.0,321.4 357.5,321.8 358.0,322.2 358.5,322.7 359.0,323.1 359.5,323.5 360.0,323.9 360.5,324.4 361.0,324.8 361.5,325.2 362.0,325.6 362.5,326.0 363.0,326.5 363.5,326.9 364.0,327.3 364.5,327.8 365.0,328.2 365.5,328.6 366.0,329.0 366.5,329.5 367.0,329.9 367.5,330.3 368.0,330.7 368.5,331.1 369.0,331.5 369.5,331.9 370.0,332.4 370.5,332.8 371.0,333.2 371.5,333.6 372.0,334.0 372.5,334.5 373.0,334.9 373.5,335.3 374.0,335.7 374.5,336.1 375.0,336.5 375.5,336.9 376.0,337.3 376.5,337.7 377.0,338.1 377.5,338.5 378.0,338.9 378.5,339.3 379.0,339.7 379.5,340.0 380.0,340.4 380.5,340.8 381.0,341.1 381.5,341.5 382.0,341.8 382.5,342.2 383.0,342.5 383.5,342.9 384.0,343.2 384.5,343.6 385.0,343.9 385.5,344.3 386.0,344.6 386.5,344.9 387.0,345.3 387.5,345.6 388.0,345.9 388.5,346.2 389.0,346.5 389.5,346.8 390.0,347.1 390.5,347.4 391.0,347.7 391.5,348.0 392.0,348.3 392.5,348.6 393.0,348.9 393.5,349.1 394.0,349.4 394.5,349.6 395.0,349.9 395.5,350.2 396.0,350.4 396.5,350.7 397.0,350.9 397.5,351.2 398.0,351.4 398.5,351.6 399.0,351.8 399.5,352.1 400.0,352.3 400.5,352.5 401.0,352.7 401.5,352.9 402.0,353.1 402.5,353.4 403.0,353.6 403.5,353.8 404.0,354.0 404.5,354.2 405.0,354.4 405.5,354.6 406.0,354.8 406.5,354.9 407.0,355.1 407.5,355.3 408.0,355.4 408.5,355.6 409.0,355.7 409.5,355.8 410.0,356.0 410.5,356.2 411.0,356.3 411.5,356.5 412.0,356.7 412.5,356.8 413.0,357.0 413.5,357.1 414.0,357.3 414.5,357.4 415.0,357.5 415.5,357.7 416.0,357.8 416.5,357.9 417.0,358.1 417.5,358.3 418.0,358.4 418.5,358.6 419.0,358.7 419.5,358.8 420.0,359.0 420.5,359.1 421.0,359.2 421.5,359.4 422.0,359.5 422.5,359.7 423.0,359.8 423.5,360.0 424.0,360.2 424.5,360.3 425.0,360.5 425.5,360.7 426.0,360.8 426.5,361.0 427.0,361.2 427.5,361.3 428.0,361.5 428.5,361.7 429.1,361.9 429.7,362.2 430.2,362.4 430.7,362.6 431.0,362.7 431.2,362.8 431.3,362.8 431.3,362.8 431.3,362.8 431.3,362.8 431.3,362.8" fill="none" stroke="#22955a" stroke-width="2.8" stroke-linejoin="round" stroke-linecap="round"/>
<polygon points="269.4,445.4 271.5,441.7 267.3,441.7" fill="#22955a"/>
<polygon points="269.8,438.4 271.9,434.7 267.7,434.7" fill="#22955a"/>
<polygon points="270.2,431.4 272.3,427.7 268.1,427.7" fill="#22955a"/>
<polygon points="270.6,424.4 272.7,420.7 268.5,420.7" fill="#22955a"/>
<polygon points="271.0,420.2 273.1,416.5 268.9,416.5" fill="#22955a"/>
<polygon points="271.4,417.5 273.5,413.8 269.3,413.8" fill="#22955a"/>
<polygon points="287.7,378.1 289.8,374.5 285.6,374.5" fill="#22955a"/>
<polygon points="288.2,375.9 290.3,372.2 286.1,372.2" fill="#22955a"/>
<polygon points="288.7,373.6 290.8,370.0 286.6,370.0" fill="#22955a"/>
<polygon points="289.2,371.3 291.3,367.6 287.1,367.6" fill="#22955a"/>
<polygon points="289.7,369.0 291.8,365.3 287.6,365.3" fill="#22955a"/>
<polygon points="290.2,366.6 292.3,362.9 288.1,362.9" fill="#22955a"/>
<polygon points="290.7,364.0 292.8,360.3 288.6,360.3" fill="#22955a"/>
<polygon points="291.2,361.3 293.3,357.7 289.1,357.7" fill="#22955a"/>
<polygon points="291.7,358.7 293.8,355.1 289.6,355.1" fill="#22955a"/>
<polygon points="292.1,356.3 294.2,352.6 290.0,352.6" fill="#22955a"/>
<polygon points="295.4,346.8 297.5,343.1 293.3,343.1" fill="#22955a"/>
<polygon points="296.0,343.5 298.1,339.8 293.9,339.8" fill="#22955a"/>
<polygon points="296.5,339.6 298.6,335.9 294.4,335.9" fill="#22955a"/>
<polygon points="297.1,334.5 299.2,330.9 295.0,330.9" fill="#22955a"/>
<polygon points="297.5,330.8 299.6,327.1 295.4,327.1" fill="#22955a"/>
<polygon points="298.0,327.2 300.1,323.6 295.9,323.6" fill="#22955a"/>
<polygon points="298.4,324.2 300.5,320.6 296.3,320.6" fill="#22955a"/>
<polygon points="298.9,321.6 301.0,318.0 296.8,318.0" fill="#22955a"/>
<polyline points="269.6,448.4 269.7,447.1 269.8,445.2 269.9,443.0 270.1,440.6 270.3,438.3 270.4,436.2 270.5,434.3 270.7,432.4 270.8,430.6 270.9,428.9 271.1,427.2 271.2,425.6 271.3,424.2 271.4,423.0 271.5,421.8 271.7,420.6 271.8,419.4 271.9,418.0 272.0,416.4 272.2,414.5 272.3,412.6 272.4,410.7 272.6,408.9 272.8,407.4 273.0,406.1 273.3,405.0 273.5,404.0 273.8,403.1 274.1,402.2 274.4,401.3 274.8,400.5 275.1,399.8 275.5,399.1 276.0,398.4 276.4,397.6 276.8,396.7 277.2,395.6 277.6,394.4 278.0,393.1 278.4,391.7 278.8,390.4 279.2,389.1 279.6,387.8 279.9,386.5 280.3,385.2 280.6,383.9 281.0,382.6 281.4,381.5 281.8,380.6 282.3,380.0 282.7,379.4 283.2,378.7 283.7,377.7 284.2,376.2 284.7,374.1 285.3,371.5 285.9,368.6 286.4,365.6 287.0,362.7 287.5,359.9 288.0,357.3 288.4,354.6 288.8,352.0 289.2,349.5 289.6,347.1 289.9,345.0 290.2,343.1 290.4,341.5 290.6,340.0 290.8,338.6 291.0,337.2 291.2,335.8 291.4,334.4 291.6,333.0 291.9,331.7 292.1,330.4 292.3,329.0 292.5,327.7 292.7,326.3 292.8,324.9 293.0,323.5 293.1,322.1 293.3,320.7 293.6,319.5 293.9,318.4 294.3,317.3 294.8,316.3 295.3,315.3 295.8,314.4 296.3,313.5 296.9,312.6 297.5,311.7 298.1,310.9 298.8,310.1 299.4,309.4 300.0,308.8 300.5,308.4 301.1,308.0 301.5,307.8 302.0,307.6 302.5,307.4 303.0,307.2 303.5,307.0 304.0,306.7 304.5,306.5 305.0,306.3 305.5,306.1 306.0,305.9 306.5,305.7 307.0,305.5 307.5,305.3 308.0,305.1 308.5,305.0 309.0,304.8 309.5,304.6 310.0,304.5 310.5,304.4 311.0,304.2 311.5,304.1 312.0,304.0 312.5,303.9 313.0,303.8 313.5,303.7 314.0,303.6 314.5,303.5 315.0,303.4 315.5,303.3 316.0,303.3 316.5,303.2 317.0,303.2 317.5,303.1 318.0,303.1 318.5,303.1 319.0,303.1 319.5,303.1 320.0,303.1 320.5,303.1 321.0,303.1 321.5,303.1 322.0,303.1 322.5,303.2 323.0,303.2 323.5,303.3 324.0,303.3 324.5,303.4 325.0,303.4 325.5,303.5 326.0,303.5 326.5,303.6 327.0,303.7 327.5,303.8 328.0,303.9 328.5,304.1 329.0,304.2 329.5,304.4 330.0,304.5 330.5,304.6 331.0,304.8 331.5,304.9 332.0,305.1 332.5,305.2 333.0,305.4 333.5,305.6 334.0,305.7 334.5,305.9 335.0,306.1 335.5,306.3 336.0,306.5 336.5,306.7 337.0,306.9 337.5,307.1 338.0,307.3 338.5,307.6 339.0,307.8 339.5,308.0 340.0,308.3 340.5,308.5 341.0,308.8 341.5,309.0 342.0,309.3 342.5,309.6 343.0,309.8 343.5,310.1 344.0,310.3 344.5,310.6 345.0,310.9 345.5,311.2 346.0,311.5 346.5,311.8 347.0,312.1 347.5,312.4 348.0,312.7 348.5,313.0 349.0,313.3 349.5,313.6 350.0,313.9 350.5,314.2 351.0,314.5 351.5,314.8 352.0,315.1 352.5,315.4 353.0,315.8 353.5,316.1 354.0,316.4 354.5,316.7 355.0,317.1 355.5,317.4 356.0,317.7 356.5,318.1 357.0,318.4 357.5,318.7 358.0,319.1 358.5,319.4 359.0,319.8 359.5,320.2 360.0,320.5 360.5,320.8 361.0,321.2 361.5,321.5 362.0,321.8 362.5,322.2 363.0,322.5 363.5,322.8 364.0,323.2 364.5,323.6 365.0,323.9 365.5,324.3 366.0,324.6 366.5,324.9 367.0,325.3 367.5,325.6 368.0,325.9 368.5,326.3 369.0,326.6 369.5,326.9 370.0,327.3 370.5,327.6 371.0,327.9 371.5,328.3 372.0,328.6 372.5,328.9 373.0,329.2 373.5,329.6 374.0,329.9 374.5,330.2 375.0,330.5 375.5,330.8 376.0,331.1 376.5,331.5 377.0,331.8 377.5,332.1 378.0,332.4 378.5,332.7 379.0,333.0 379.5,333.3 380.0,333.5 380.5,333.8 381.0,334.1 381.5,334.4 382.0,334.7 382.5,335.0 383.0,335.2 383.5,335.5 384.0,335.8 384.5,336.1 385.0,336.3 385.5,336.6 386.0,336.8 386.5,337.1 387.0,337.3 387.5,337.6 388.0,337.8 388.5,338.1 389.0,338.3 389.5,338.6 390.0,338.8 390.5,339.0 391.0,339.3 391.5,339.5 392.0,339.7 392.5,339.9 393.0,340.1 393.5,340.3 394.0,340.5 394.5,340.7 395.0,340.8 395.5,341.0 396.0,341.2 396.5,341.4 397.0,341.6 397.5,341.8 398.0,341.9 398.5,342.1 399.0,342.3 399.5,342.5 400.0,342.6 400.5,342.8 401.0,342.9 401.5,343.1 402.0,343.2 402.5,343.3 403.0,343.5 403.5,343.6 404.0,343.7 404.5,343.9 405.0,344.0 405.5,344.1 406.0,344.3 406.5,344.4 407.0,344.5 407.5,344.7 408.0,344.8 408.5,344.9 409.0,345.0 409.5,345.1 410.0,345.2 410.5,345.3 411.0,345.4 411.5,345.5 412.0,345.6 412.5,345.7 413.0,345.8 413.5,345.9 414.0,346.0 414.5,346.1 415.0,346.2 415.5,346.3 416.0,346.4 416.5,346.5 417.0,346.6 417.5,346.7 418.0,346.8 418.5,346.9 419.0,346.9 419.5,347.0 420.0,347.1 420.5,347.2 421.0,347.3 421.5,347.4 422.0,347.5 422.5,347.6 423.0,347.7 423.5,347.8 424.0,347.9 424.5,348.0 425.0,348.2 425.5,348.3 426.0,348.4 426.5,348.5 427.0,348.7 427.5,348.8 428.1,348.9 428.5,349.1 429.0,349.2 429.5,349.3 429.9,349.5 430.3,349.7 430.7,349.8 431.1,349.9 431.3,350.0" fill="none" stroke="#a56ee4" stroke-width="0.8" opacity="0.45" stroke-linejoin="round"/>
<polyline points="273.3,405.0 273.5,404.0 273.8,403.1 274.1,402.2 274.4,401.3 274.8,400.5 275.1,399.8 275.5,399.1 276.0,398.4 276.4,397.6 276.8,396.7 277.2,395.6 277.6,394.4 278.0,393.1 278.4,391.7 278.8,390.4 279.2,389.1 279.6,387.8 279.9,386.5 280.3,385.2 280.6,383.9 281.0,382.6 281.4,381.5 281.8,380.6 282.3,380.0 282.7,379.4 283.2,378.7 283.7,377.7 284.2,376.2 284.7,374.1" fill="none" stroke="#a56ee4" stroke-width="2.8" stroke-linejoin="round" stroke-linecap="round"/>
<polyline points="293.6,319.5 293.9,318.4 294.3,317.3 294.8,316.3 295.3,315.3 295.8,314.4 296.3,313.5 296.9,312.6 297.5,311.7 298.1,310.9 298.8,310.1 299.4,309.4 300.0,308.8 300.5,308.4 301.1,308.0 301.5,307.8 302.0,307.6 302.5,307.4 303.0,307.2 303.5,307.0 304.0,306.7 304.5,306.5 305.0,306.3 305.5,306.1 306.0,305.9 306.5,305.7 307.0,305.5 307.5,305.3 308.0,305.1 308.5,305.0 309.0,304.8 309.5,304.6 310.0,304.5 310.5,304.4 311.0,304.2 311.5,304.1 312.0,304.0 312.5,303.9 313.0,303.8 313.5,303.7 314.0,303.6 314.5,303.5 315.0,303.4 315.5,303.3 316.0,303.3 316.5,303.2 317.0,303.2 317.5,303.1 318.0,303.1 318.5,303.1 319.0,303.1 319.5,303.1 320.0,303.1 320.5,303.1 321.0,303.1 321.5,303.1 322.0,303.1 322.5,303.2 323.0,303.2 323.5,303.3 324.0,303.3 324.5,303.4 325.0,303.4 325.5,303.5 326.0,303.5 326.5,303.6 327.0,303.7 327.5,303.8 328.0,303.9 328.5,304.1 329.0,304.2 329.5,304.4 330.0,304.5 330.5,304.6 331.0,304.8 331.5,304.9 332.0,305.1 332.5,305.2 333.0,305.4 333.5,305.6 334.0,305.7 334.5,305.9 335.0,306.1 335.5,306.3 336.0,306.5 336.5,306.7 337.0,306.9 337.5,307.1 338.0,307.3 338.5,307.6 339.0,307.8 339.5,308.0 340.0,308.3 340.5,308.5 341.0,308.8 341.5,309.0 342.0,309.3 342.5,309.6 343.0,309.8 343.5,310.1 344.0,310.3 344.5,310.6 345.0,310.9 345.5,311.2 346.0,311.5 346.5,311.8 347.0,312.1 347.5,312.4 348.0,312.7 348.5,313.0 349.0,313.3 349.5,313.6 350.0,313.9 350.5,314.2 351.0,314.5 351.5,314.8 352.0,315.1 352.5,315.4 353.0,315.8 353.5,316.1 354.0,316.4 354.5,316.7 355.0,317.1 355.5,317.4 356.0,317.7 356.5,318.1 357.0,318.4 357.5,318.7 358.0,319.1 358.5,319.4 359.0,319.8 359.5,320.2 360.0,320.5 360.5,320.8 361.0,321.2 361.5,321.5 362.0,321.8 362.5,322.2 363.0,322.5 363.5,322.8 364.0,323.2 364.5,323.6 365.0,323.9 365.5,324.3 366.0,324.6 366.5,324.9 367.0,325.3 367.5,325.6 368.0,325.9 368.5,326.3 369.0,326.6 369.5,326.9 370.0,327.3 370.5,327.6 371.0,327.9 371.5,328.3 372.0,328.6 372.5,328.9 373.0,329.2 373.5,329.6 374.0,329.9 374.5,330.2 375.0,330.5 375.5,330.8 376.0,331.1 376.5,331.5 377.0,331.8 377.5,332.1 378.0,332.4 378.5,332.7 379.0,333.0 379.5,333.3 380.0,333.5 380.5,333.8 381.0,334.1 381.5,334.4 382.0,334.7 382.5,335.0 383.0,335.2 383.5,335.5 384.0,335.8 384.5,336.1 385.0,336.3 385.5,336.6 386.0,336.8 386.5,337.1 387.0,337.3 387.5,337.6 388.0,337.8 388.5,338.1 389.0,338.3 389.5,338.6 390.0,338.8 390.5,339.0 391.0,339.3 391.5,339.5 392.0,339.7 392.5,339.9 393.0,340.1 393.5,340.3 394.0,340.5 394.5,340.7 395.0,340.8 395.5,341.0 396.0,341.2 396.5,341.4 397.0,341.6 397.5,341.8 398.0,341.9 398.5,342.1 399.0,342.3 399.5,342.5 400.0,342.6 400.5,342.8 401.0,342.9 401.5,343.1 402.0,343.2 402.5,343.3 403.0,343.5 403.5,343.6 404.0,343.7 404.5,343.9 405.0,344.0 405.5,344.1 406.0,344.3 406.5,344.4 407.0,344.5 407.5,344.7 408.0,344.8 408.5,344.9 409.0,345.0 409.5,345.1 410.0,345.2 410.5,345.3 411.0,345.4 411.5,345.5 412.0,345.6 412.5,345.7 413.0,345.8 413.5,345.9 414.0,346.0 414.5,346.1 415.0,346.2 415.5,346.3 416.0,346.4 416.5,346.5 417.0,346.6 417.5,346.7 418.0,346.8 418.5,346.9 419.0,346.9 419.5,347.0 420.0,347.1 420.5,347.2 421.0,347.3 421.5,347.4 422.0,347.5 422.5,347.6 423.0,347.7 423.5,347.8 424.0,347.9 424.5,348.0 425.0,348.2 425.5,348.3 426.0,348.4 426.5,348.5 427.0,348.7 427.5,348.8 428.1,348.9 428.5,349.1 429.0,349.2 429.5,349.3 429.9,349.5 430.3,349.7 430.7,349.8 431.1,349.9 431.3,350.0" fill="none" stroke="#a56ee4" stroke-width="2.8" stroke-linejoin="round" stroke-linecap="round"/>
<polygon points="270.1,438.9 272.1,441.4 270.1,443.9 268.0,441.4" fill="#a56ee4"/>
<polygon points="270.5,432.0 272.6,434.5 270.5,437.0 268.4,434.5" fill="#a56ee4"/>
<polygon points="271.0,425.8 273.1,428.3 271.0,430.8 268.9,428.3" fill="#a56ee4"/>
<polygon points="271.4,420.7 273.5,423.2 271.4,425.6 269.3,423.2" fill="#a56ee4"/>
<polygon points="272.0,414.5 274.1,417.0 272.0,419.4 269.9,417.0" fill="#a56ee4"/>
<polygon points="272.3,409.3 274.4,411.8 272.3,414.2 270.3,411.8" fill="#a56ee4"/>
<polygon points="272.7,405.4 274.8,407.8 272.7,410.3 270.7,407.8" fill="#a56ee4"/>
<polygon points="273.1,403.0 275.2,405.5 273.1,407.9 271.1,405.5" fill="#a56ee4"/>
<polygon points="285.1,369.9 287.2,372.4 285.1,374.8 283.0,372.4" fill="#a56ee4"/>
<polygon points="285.6,367.5 287.7,369.9 285.6,372.4 283.5,369.9" fill="#a56ee4"/>
<polygon points="286.1,364.9 288.2,367.4 286.1,369.8 284.0,367.4" fill="#a56ee4"/>
<polygon points="286.6,362.2 288.7,364.7 286.6,367.2 284.5,364.7" fill="#a56ee4"/>
<polygon points="287.1,359.6 289.2,362.0 287.1,364.5 285.0,362.0" fill="#a56ee4"/>
<polygon points="287.6,356.8 289.7,359.3 287.6,361.7 285.5,359.3" fill="#a56ee4"/>
<polygon points="288.1,353.9 290.2,356.3 288.1,358.8 286.0,356.3" fill="#a56ee4"/>
<polygon points="288.6,350.8 290.7,353.3 288.6,355.7 286.5,353.3" fill="#a56ee4"/>
<polygon points="289.1,347.6 291.2,350.1 289.1,352.6 287.0,350.1" fill="#a56ee4"/>
<polygon points="289.6,344.4 291.7,346.9 289.6,349.4 287.5,346.9" fill="#a56ee4"/>
<polygon points="290.1,341.2 292.2,343.6 290.1,346.1 288.0,343.6" fill="#a56ee4"/>
<polygon points="290.6,337.6 292.7,340.0 290.6,342.5 288.5,340.0" fill="#a56ee4"/>
<polygon points="291.1,334.2 293.2,336.7 291.1,339.1 289.0,336.7" fill="#a56ee4"/>
<polygon points="291.5,331.2 293.6,333.6 291.5,336.1 289.4,333.6" fill="#a56ee4"/>
<polygon points="292.0,328.2 294.1,330.7 292.0,333.2 289.9,330.7" fill="#a56ee4"/>
<polygon points="292.6,324.4 294.7,326.9 292.6,329.3 290.5,326.9" fill="#a56ee4"/>
<polygon points="293.1,320.1 295.2,322.6 293.1,325.0 291.0,322.6" fill="#a56ee4"/>
<polygon points="293.4,317.9 295.5,320.3 293.4,322.8 291.3,320.3" fill="#a56ee4"/>
<rect x="353.6" y="257.6" width="105.7" height="57" fill="#fff" stroke="#a8a8a8" stroke-width="1"/>
<line x1="355" y1="263.4" x2="375.8" y2="263.4" stroke="#3b3b3b" stroke-width="1" opacity="0.55"/>
<circle cx="365.2" cy="263.4" r="1.6" fill="#3b3b3b"/>
<text x="378.4" y="266.7" text-anchor="start" font-size="9.2" fill="#000" font-family="Liberation Sans, sans-serif" stroke="#000" stroke-width="0.15">ZnO</text>
<line x1="355" y1="274.8" x2="375.8" y2="274.8" stroke="#ee2b2b" stroke-width="1" opacity="0.55"/>
<circle cx="365.2" cy="274.8" r="1.6" fill="#ee2b2b"/>
<text x="378.4" y="278.1" text-anchor="start" font-size="9.2" fill="#000" font-family="Liberation Sans, sans-serif" stroke="#000" stroke-width="0.15">Yb/ZnO 0.01 mol/%</text>
<line x1="355" y1="286.1" x2="375.8" y2="286.1" stroke="#1f66dd" stroke-width="1" opacity="0.55"/>
<polygon points="365.2,284.2 367.1,287.5 363.3,287.5" fill="#1f66dd"/>
<text x="378.4" y="289.4" text-anchor="start" font-size="9.2" fill="#000" font-family="Liberation Sans, sans-serif" stroke="#000" stroke-width="0.15">Yb/ZnO 0.02 mol/%</text>
<line x1="355" y1="297.4" x2="375.8" y2="297.4" stroke="#22955a" stroke-width="1" opacity="0.55"/>
<polygon points="365.2,299.4 367.1,296.0 363.3,296.0" fill="#22955a"/>
<text x="378.4" y="300.8" text-anchor="start" font-size="9.2" fill="#000" font-family="Liberation Sans, sans-serif" stroke="#000" stroke-width="0.15">Yb/ZnO 0.03 mol/%</text>
<line x1="355" y1="308.8" x2="375.8" y2="308.8" stroke="#a56ee4" stroke-width="1" opacity="0.55"/>
<polygon points="365.2,306.7 367.0,308.8 365.2,310.9 363.4,308.8" fill="#a56ee4"/>
<text x="378.4" y="312.1" text-anchor="start" font-size="9.2" fill="#000" font-family="Liberation Sans, sans-serif" stroke="#000" stroke-width="0.15">Yb/ZnO 0.04 mol/%</text>
<line x1="77.0" y1="198.8" x2="77.0" y2="202.4" stroke="#000" stroke-width="2.0"/>
<line x1="107.0" y1="198.8" x2="107.0" y2="200.7" stroke="#000" stroke-width="2.0"/>
<line x1="137.0" y1="198.8" x2="137.0" y2="202.4" stroke="#000" stroke-width="2.0"/>
<line x1="167.0" y1="198.8" x2="167.0" y2="200.7" stroke="#000" stroke-width="2.0"/>
<line x1="197.0" y1="198.8" x2="197.0" y2="202.4" stroke="#000" stroke-width="2.0"/>
<line x1="227.0" y1="198.8" x2="227.0" y2="200.7" stroke="#000" stroke-width="2.0"/>
<line x1="257.0" y1="198.8" x2="257.0" y2="202.4" stroke="#000" stroke-width="2.0"/>
<line x1="47.0" y1="5.9" x2="43.4" y2="5.9" stroke="#000" stroke-width="2.0"/>
<line x1="47.0" y1="33.4" x2="45.1" y2="33.4" stroke="#000" stroke-width="2.0"/>
<line x1="47.0" y1="60.9" x2="43.4" y2="60.9" stroke="#000" stroke-width="2.0"/>
<line x1="47.0" y1="88.4" x2="45.1" y2="88.4" stroke="#000" stroke-width="2.0"/>
<line x1="47.0" y1="115.9" x2="43.4" y2="115.9" stroke="#000" stroke-width="2.0"/>
<line x1="47.0" y1="143.4" x2="45.1" y2="143.4" stroke="#000" stroke-width="2.0"/>
<line x1="47.0" y1="170.9" x2="43.4" y2="170.9" stroke="#000" stroke-width="2.0"/>
<line x1="71.0" y1="5.3" x2="71.0" y2="7.2" stroke="#000" stroke-width="2.0"/>
<line x1="95.0" y1="5.3" x2="95.0" y2="8.9" stroke="#000" stroke-width="2.0"/>
<line x1="119.0" y1="5.3" x2="119.0" y2="7.2" stroke="#000" stroke-width="2.0"/>
<line x1="143.0" y1="5.3" x2="143.0" y2="8.9" stroke="#000" stroke-width="2.0"/>
<line x1="167.0" y1="5.3" x2="167.0" y2="7.2" stroke="#000" stroke-width="2.0"/>
<line x1="191.0" y1="5.3" x2="191.0" y2="8.9" stroke="#000" stroke-width="2.0"/>
<line x1="215.0" y1="5.3" x2="215.0" y2="7.2" stroke="#000" stroke-width="2.0"/>
<line x1="239.0" y1="5.3" x2="239.0" y2="8.9" stroke="#000" stroke-width="2.0"/>
<line x1="263.0" y1="5.3" x2="263.0" y2="7.2" stroke="#000" stroke-width="2.0"/>
<line x1="287.3" y1="24.7" x2="285.4" y2="24.7" stroke="#000" stroke-width="2.0"/>
<line x1="287.3" y1="44.1" x2="283.7" y2="44.1" stroke="#000" stroke-width="2.0"/>
<line x1="287.3" y1="63.5" x2="285.4" y2="63.5" stroke="#000" stroke-width="2.0"/>
<line x1="287.3" y1="82.9" x2="283.7" y2="82.9" stroke="#000" stroke-width="2.0"/>
<line x1="287.3" y1="102.3" x2="285.4" y2="102.3" stroke="#000" stroke-width="2.0"/>
<line x1="287.3" y1="121.7" x2="283.7" y2="121.7" stroke="#000" stroke-width="2.0"/>
<line x1="287.3" y1="141.1" x2="285.4" y2="141.1" stroke="#000" stroke-width="2.0"/>
<line x1="287.3" y1="160.5" x2="283.7" y2="160.5" stroke="#000" stroke-width="2.0"/>
<line x1="287.3" y1="179.9" x2="285.4" y2="179.9" stroke="#000" stroke-width="2.0"/>
<rect x="47" y="5.3" width="240.3" height="193.5" fill="none" stroke="#000" stroke-width="2.2"/>
<line x1="377.0" y1="198.8" x2="377.0" y2="202.4" stroke="#000" stroke-width="2.0"/>
<line x1="407.0" y1="198.8" x2="407.0" y2="200.7" stroke="#000" stroke-width="2.0"/>
<line x1="437.0" y1="198.8" x2="437.0" y2="202.4" stroke="#000" stroke-width="2.0"/>
<line x1="467.0" y1="198.8" x2="467.0" y2="200.7" stroke="#000" stroke-width="2.0"/>
<line x1="497.0" y1="198.8" x2="497.0" y2="202.4" stroke="#000" stroke-width="2.0"/>
<line x1="527.0" y1="198.8" x2="527.0" y2="200.7" stroke="#000" stroke-width="2.0"/>
<line x1="557.0" y1="198.8" x2="557.0" y2="202.4" stroke="#000" stroke-width="2.0"/>
<line x1="347.0" y1="7.7" x2="345.1" y2="7.7" stroke="#000" stroke-width="2.0"/>
<line x1="347.0" y1="23.5" x2="343.4" y2="23.5" stroke="#000" stroke-width="2.0"/>
<line x1="347.0" y1="39.3" x2="345.1" y2="39.3" stroke="#000" stroke-width="2.0"/>
<line x1="347.0" y1="55.1" x2="343.4" y2="55.1" stroke="#000" stroke-width="2.0"/>
<line x1="347.0" y1="70.9" x2="345.1" y2="70.9" stroke="#000" stroke-width="2.0"/>
<line x1="347.0" y1="86.7" x2="343.4" y2="86.7" stroke="#000" stroke-width="2.0"/>
<line x1="347.0" y1="102.5" x2="345.1" y2="102.5" stroke="#000" stroke-width="2.0"/>
<line x1="347.0" y1="118.3" x2="343.4" y2="118.3" stroke="#000" stroke-width="2.0"/>
<line x1="347.0" y1="134.1" x2="345.1" y2="134.1" stroke="#000" stroke-width="2.0"/>
<line x1="347.0" y1="149.9" x2="343.4" y2="149.9" stroke="#000" stroke-width="2.0"/>
<line x1="347.0" y1="165.7" x2="345.1" y2="165.7" stroke="#000" stroke-width="2.0"/>
<line x1="347.0" y1="181.5" x2="343.4" y2="181.5" stroke="#000" stroke-width="2.0"/>
<line x1="371.0" y1="4.7" x2="371.0" y2="6.6" stroke="#000" stroke-width="2.0"/>
<line x1="395.0" y1="4.7" x2="395.0" y2="8.3" stroke="#000" stroke-width="2.0"/>
<line x1="419.0" y1="4.7" x2="419.0" y2="6.6" stroke="#000" stroke-width="2.0"/>
<line x1="443.0" y1="4.7" x2="443.0" y2="8.3" stroke="#000" stroke-width="2.0"/>
<line x1="467.0" y1="4.7" x2="467.0" y2="6.6" stroke="#000" stroke-width="2.0"/>
<line x1="491.0" y1="4.7" x2="491.0" y2="8.3" stroke="#000" stroke-width="2.0"/>
<line x1="515.0" y1="4.7" x2="515.0" y2="6.6" stroke="#000" stroke-width="2.0"/>
<line x1="539.0" y1="4.7" x2="539.0" y2="8.3" stroke="#000" stroke-width="2.0"/>
<line x1="563.0" y1="4.7" x2="563.0" y2="6.6" stroke="#000" stroke-width="2.0"/>
<line x1="587.3" y1="24.1" x2="585.4" y2="24.1" stroke="#000" stroke-width="2.0"/>
<line x1="587.3" y1="43.5" x2="583.7" y2="43.5" stroke="#000" stroke-width="2.0"/>
<line x1="587.3" y1="62.9" x2="585.4" y2="62.9" stroke="#000" stroke-width="2.0"/>
<line x1="587.3" y1="82.3" x2="583.7" y2="82.3" stroke="#000" stroke-width="2.0"/>
<line x1="587.3" y1="101.7" x2="585.4" y2="101.7" stroke="#000" stroke-width="2.0"/>
<line x1="587.3" y1="121.1" x2="583.7" y2="121.1" stroke="#000" stroke-width="2.0"/>
<line x1="587.3" y1="140.5" x2="585.4" y2="140.5" stroke="#000" stroke-width="2.0"/>
<line x1="587.3" y1="159.9" x2="583.7" y2="159.9" stroke="#000" stroke-width="2.0"/>
<line x1="587.3" y1="179.3" x2="585.4" y2="179.3" stroke="#000" stroke-width="2.0"/>
<rect x="347" y="4.7" width="240.29999999999995" height="194.10000000000002" fill="none" stroke="#000" stroke-width="2.2"/>
<line x1="247.8" y1="452.5" x2="247.8" y2="456.1" stroke="#000" stroke-width="2.0"/>
<line x1="278.4" y1="452.5" x2="278.4" y2="454.4" stroke="#000" stroke-width="2.0"/>
<line x1="309.0" y1="452.5" x2="309.0" y2="456.1" stroke="#000" stroke-width="2.0"/>
<line x1="339.5" y1="452.5" x2="339.5" y2="454.4" stroke="#000" stroke-width="2.0"/>
<line x1="370.1" y1="452.5" x2="370.1" y2="456.1" stroke="#000" stroke-width="2.0"/>
<line x1="400.7" y1="452.5" x2="400.7" y2="454.4" stroke="#000" stroke-width="2.0"/>
<line x1="431.3" y1="452.5" x2="431.3" y2="456.1" stroke="#000" stroke-width="2.0"/>
<line x1="217.0" y1="273.2" x2="213.4" y2="273.2" stroke="#000" stroke-width="2.0"/>
<line x1="217.0" y1="291.1" x2="215.1" y2="291.1" stroke="#000" stroke-width="2.0"/>
<line x1="217.0" y1="309.1" x2="213.4" y2="309.1" stroke="#000" stroke-width="2.0"/>
<line x1="217.0" y1="327.0" x2="215.1" y2="327.0" stroke="#000" stroke-width="2.0"/>
<line x1="217.0" y1="345.0" x2="213.4" y2="345.0" stroke="#000" stroke-width="2.0"/>
<line x1="217.0" y1="362.9" x2="215.1" y2="362.9" stroke="#000" stroke-width="2.0"/>
<line x1="217.0" y1="380.9" x2="213.4" y2="380.9" stroke="#000" stroke-width="2.0"/>
<line x1="217.0" y1="398.8" x2="215.1" y2="398.8" stroke="#000" stroke-width="2.0"/>
<line x1="217.0" y1="416.8" x2="213.4" y2="416.8" stroke="#000" stroke-width="2.0"/>
<line x1="217.0" y1="434.8" x2="215.1" y2="434.8" stroke="#000" stroke-width="2.0"/>
<line x1="241.5" y1="256.5" x2="241.5" y2="258.4" stroke="#000" stroke-width="2.0"/>
<line x1="266.0" y1="256.5" x2="266.0" y2="260.1" stroke="#000" stroke-width="2.0"/>
<line x1="290.5" y1="256.5" x2="290.5" y2="258.4" stroke="#000" stroke-width="2.0"/>
<line x1="315.0" y1="256.5" x2="315.0" y2="260.1" stroke="#000" stroke-width="2.0"/>
<line x1="339.5" y1="256.5" x2="339.5" y2="258.4" stroke="#000" stroke-width="2.0"/>
<line x1="364.0" y1="256.5" x2="364.0" y2="260.1" stroke="#000" stroke-width="2.0"/>
<line x1="388.5" y1="256.5" x2="388.5" y2="258.4" stroke="#000" stroke-width="2.0"/>
<line x1="413.0" y1="256.5" x2="413.0" y2="260.1" stroke="#000" stroke-width="2.0"/>
<line x1="437.5" y1="256.5" x2="437.5" y2="258.4" stroke="#000" stroke-width="2.0"/>
<line x1="462.6" y1="276.0" x2="460.7" y2="276.0" stroke="#000" stroke-width="2.0"/>
<line x1="462.6" y1="295.6" x2="459.0" y2="295.6" stroke="#000" stroke-width="2.0"/>
<line x1="462.6" y1="315.1" x2="460.7" y2="315.1" stroke="#000" stroke-width="2.0"/>
<line x1="462.6" y1="334.6" x2="459.0" y2="334.6" stroke="#000" stroke-width="2.0"/>
<line x1="462.6" y1="354.1" x2="460.7" y2="354.1" stroke="#000" stroke-width="2.0"/>
<line x1="462.6" y1="373.7" x2="459.0" y2="373.7" stroke="#000" stroke-width="2.0"/>
<line x1="462.6" y1="393.2" x2="460.7" y2="393.2" stroke="#000" stroke-width="2.0"/>
<line x1="462.6" y1="412.7" x2="459.0" y2="412.7" stroke="#000" stroke-width="2.0"/>
<line x1="462.6" y1="432.3" x2="460.7" y2="432.3" stroke="#000" stroke-width="2.0"/>
<rect x="217" y="256.5" width="245.60000000000002" height="196.0" fill="none" stroke="#000" stroke-width="2.2"/>
</svg>
</body></html>
